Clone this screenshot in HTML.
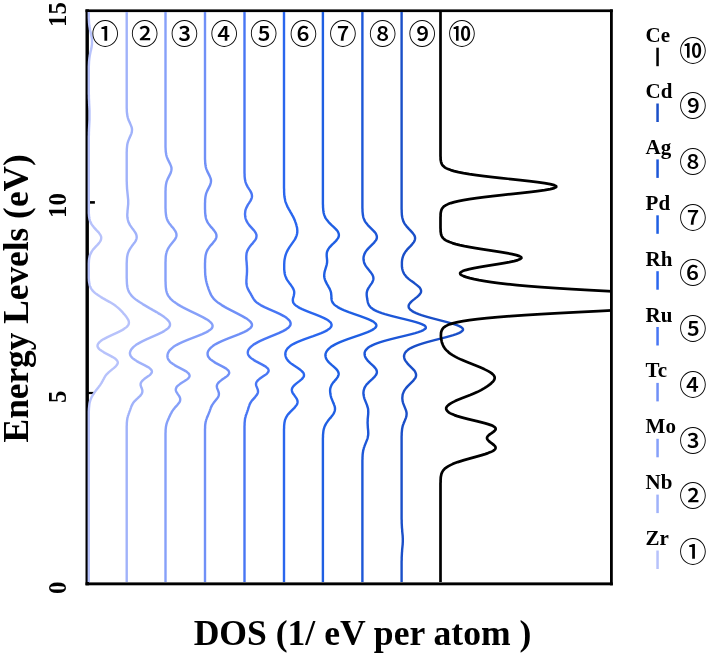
<!DOCTYPE html>
<html lang="en"><head><meta charset="utf-8"><title>DOS</title>
<style>
html,body{margin:0;padding:0;background:#fff;}
body{width:708px;height:656px;overflow:hidden;}
svg{display:block;}
.t{font-family:"Liberation Serif","Noto Serif CJK SC",serif;font-weight:bold;fill:#000;}
.c{font-family:"Liberation Sans","Noto Sans CJK JP",sans-serif;font-weight:500;fill:#000;}
</style></head><body>
<svg width="708" height="656" viewBox="0 0 708 656">
<rect width="708" height="656" fill="#fff"/>
<defs><clipPath id="cp"><rect x="85.0" y="12.1" width="526.4" height="570.3"/></clipPath></defs>
<g fill="#000">
<rect x="85.5" y="9.4" width="527.3" height="2.7"/>
<rect x="85.5" y="582.4" width="527.3" height="2.9"/>
<rect x="85.5" y="9.4" width="3.4" height="575.9"/>
<rect x="610.0" y="9.4" width="2.8" height="575.9"/>
<rect x="88" y="201.1" width="6.9" height="2.6"/>
<rect x="88" y="391.9" width="6.6" height="2.2"/>
</g>
<g clip-path="url(#cp)" fill="none" stroke-width="2.4" stroke-linejoin="round">
<path stroke="#b7c2fb" d="M88.8,12.1 L88.8,13.1 L88.8,14.1 L88.8,15.1 L88.8,16.1 L88.8,17.1 L88.8,18.1 L88.9,19.1 L88.9,20.1 L89.0,21.1 L89.0,22.1 L89.1,23.1 L89.2,24.1 L89.3,25.1 L89.4,26.1 L89.6,27.1 L89.8,28.1 L89.9,29.1 L90.1,30.1 L90.3,31.1 L90.6,32.1 L90.8,33.1 L91.0,34.1 L91.2,35.1 L91.4,36.1 L91.6,37.1 L91.8,38.1 L91.9,39.1 L92.0,40.1 L92.0,41.1 L92.0,42.1 L92.0,43.1 L92.0,44.1 L91.9,45.1 L91.7,46.1 L91.6,47.1 L91.4,48.1 L91.2,49.1 L91.0,50.1 L90.7,51.1 L90.5,52.1 L90.3,53.1 L90.1,54.1 L89.9,55.1 L89.7,56.1 L89.6,57.1 L89.4,58.1 L89.3,59.1 L89.2,60.1 L89.1,61.1 L89.0,62.1 L89.0,63.1 L88.9,64.1 L88.9,65.1 L88.8,66.1 L88.8,67.1 L88.8,68.1 L88.8,69.1 L88.8,70.1 L88.8,71.1 L88.8,72.1 L88.8,73.1 L88.8,74.1 L88.8,75.1 L88.8,76.1 L88.8,77.1 L88.8,78.1 L88.8,79.1 L88.8,80.1 L88.8,81.1 L88.8,82.1 L88.8,83.1 L88.8,84.1 L88.8,85.1 L88.8,86.1 L88.8,87.1 L88.8,88.1 L88.8,89.1 L88.8,90.1 L88.8,91.1 L88.8,92.1 L88.8,93.1 L88.8,94.1 L88.9,95.1 L88.9,96.1 L88.9,97.1 L88.9,98.1 L89.0,99.1 L89.0,100.1 L89.1,101.1 L89.1,102.1 L89.1,103.1 L89.2,104.1 L89.2,105.1 L89.3,106.1 L89.3,107.1 L89.4,108.1 L89.4,109.1 L89.5,110.1 L89.5,111.1 L89.5,112.1 L89.5,113.1 L89.5,114.1 L89.5,115.1 L89.5,116.1 L89.5,117.1 L89.5,118.1 L89.5,119.1 L89.5,120.1 L89.4,121.1 L89.4,122.1 L89.3,123.1 L89.3,124.1 L89.2,125.1 L89.2,126.1 L89.1,127.1 L89.1,128.1 L89.0,129.1 L89.0,130.1 L89.0,131.1 L88.9,132.1 L88.9,133.1 L88.9,134.1 L88.9,135.1 L88.8,136.1 L88.8,137.1 L88.8,138.1 L88.8,139.1 L88.8,140.1 L88.8,141.1 L88.8,142.1 L88.8,143.1 L88.8,144.1 L88.8,145.1 L88.8,146.1 L88.8,147.1 L88.8,148.1 L88.8,149.1 L88.8,150.1 L88.8,151.1 L88.8,152.1 L88.8,153.1 L88.8,154.1 L88.8,155.1 L88.8,156.1 L88.8,157.1 L88.8,158.1 L88.8,159.1 L88.8,160.1 L88.8,161.1 L88.8,162.1 L88.8,163.1 L88.8,164.1 L88.8,165.1 L88.8,166.1 L88.8,167.1 L88.8,168.1 L88.8,169.1 L88.8,170.1 L88.8,171.1 L88.8,172.1 L88.8,173.1 L88.8,174.1 L88.8,175.1 L88.8,176.1 L88.8,177.1 L88.8,178.1 L88.8,179.1 L88.8,180.1 L88.8,181.1 L88.8,182.1 L88.8,183.1 L88.8,184.1 L88.8,185.1 L88.8,186.1 L88.8,187.1 L88.8,188.1 L88.8,189.1 L88.8,190.1 L88.8,191.1 L88.8,192.1 L88.8,193.1 L88.8,194.1 L88.8,195.1 L88.8,196.1 L88.8,197.1 L88.8,198.1 L88.8,199.1 L88.8,200.1 L88.8,201.1 L88.8,202.1 L88.8,203.1 L88.8,204.1 L88.8,205.1 L88.8,206.1 L88.8,207.1 L88.8,208.1 L88.8,209.1 L88.8,210.1 L88.8,211.1 L88.8,212.1 L88.8,213.1 L88.9,214.1 L89.0,215.1 L89.0,216.1 L89.2,217.1 L89.3,218.1 L89.5,219.1 L89.8,220.1 L90.1,221.1 L90.5,222.1 L91.0,223.1 L91.5,224.1 L92.2,225.1 L92.9,226.1 L93.7,227.1 L94.6,228.1 L95.5,229.1 L96.4,230.1 L97.4,231.1 L98.3,232.1 L99.1,233.1 L99.8,234.1 L100.5,235.1 L100.9,236.1 L101.2,237.1 L101.2,238.1 L101.1,239.1 L100.8,240.1 L100.3,241.1 L99.7,242.1 L99.0,243.1 L98.1,244.1 L97.2,245.1 L96.2,246.1 L95.3,247.1 L94.4,248.1 L93.5,249.1 L92.7,250.1 L92.0,251.1 L91.4,252.1 L90.9,253.1 L90.4,254.1 L90.0,255.1 L89.7,256.1 L89.5,257.1 L89.3,258.1 L89.1,259.1 L89.0,260.1 L88.9,261.1 L88.9,262.1 L88.8,263.1 L88.8,264.1 L88.8,265.1 L88.8,266.1 L88.8,267.1 L88.8,268.1 L88.8,269.1 L88.8,270.1 L88.8,271.1 L88.8,272.1 L88.8,273.1 L88.8,274.1 L88.8,275.1 L88.8,276.1 L88.8,277.1 L88.8,278.1 L88.9,279.1 L88.9,280.1 L89.0,281.1 L89.1,282.1 L89.3,283.1 L89.5,284.1 L89.7,285.1 L90.0,286.1 L90.4,287.1 L90.9,288.1 L91.5,289.1 L92.2,290.1 L93.1,291.1 L94.1,292.1 L95.2,293.1 L96.5,294.1 L97.9,295.1 L99.4,296.1 L101.0,297.1 L102.7,298.1 L104.5,299.1 L106.2,300.1 L108.0,301.1 L109.8,302.1 L111.4,303.1 L113.0,304.1 L114.5,305.1 L115.9,306.1 L117.2,307.1 L118.4,308.1 L119.5,309.1 L120.5,310.1 L121.5,311.1 L122.4,312.1 L123.2,313.1 L124.1,314.1 L124.9,315.1 L125.7,316.1 L126.5,317.1 L127.2,318.1 L127.8,319.1 L128.4,320.1 L128.7,321.1 L128.9,322.1 L128.9,323.1 L128.7,324.1 L128.2,325.1 L127.5,326.1 L126.5,327.1 L125.2,328.1 L123.8,329.1 L122.1,330.1 L120.2,331.1 L118.2,332.1 L116.1,333.1 L113.9,334.1 L111.7,335.1 L109.6,336.1 L107.5,337.1 L105.6,338.1 L103.7,339.1 L102.1,340.1 L100.7,341.1 L99.5,342.1 L98.6,343.1 L97.9,344.1 L97.6,345.1 L97.5,346.1 L97.8,347.1 L98.4,348.1 L99.3,349.1 L100.4,350.1 L101.9,351.1 L103.5,352.1 L105.3,353.1 L107.2,354.1 L109.1,355.1 L111.0,356.1 L112.7,357.1 L114.3,358.1 L115.7,359.1 L116.7,360.1 L117.4,361.1 L117.8,362.1 L117.8,363.1 L117.4,364.1 L116.8,365.1 L116.0,366.1 L114.9,367.1 L113.8,368.1 L112.5,369.1 L111.3,370.1 L110.1,371.1 L108.9,372.1 L107.9,373.1 L106.9,374.1 L106.1,375.1 L105.3,376.1 L104.7,377.1 L104.1,378.1 L103.6,379.1 L103.0,380.1 L102.5,381.1 L101.9,382.1 L101.4,383.1 L100.7,384.1 L100.1,385.1 L99.4,386.1 L98.6,387.1 L97.9,388.1 L97.1,389.1 L96.3,390.1 L95.5,391.1 L94.8,392.1 L94.1,393.1 L93.4,394.1 L92.8,395.1 L92.2,396.1 L91.6,397.1 L91.2,398.1 L90.8,399.1 L90.4,400.1 L90.1,401.1 L89.8,402.1 L89.6,403.1 L89.4,404.1 L89.3,405.1 L89.2,406.1 L89.1,407.1 L89.0,408.1 L88.9,409.1 L88.9,410.1 L88.8,411.1 L88.8,412.1 L88.8,413.1 L88.8,414.1 L88.8,415.1 L88.8,416.1 L88.8,417.1 L88.8,418.1 L88.8,419.1 L88.8,420.1 L88.8,421.1 L88.8,422.1 L88.8,423.1 L88.8,424.1 L88.8,425.1 L88.8,426.1 L88.8,427.1 L88.8,428.1 L88.8,429.1 L88.8,430.1 L88.8,431.1 L88.8,432.1 L88.8,433.1 L88.8,434.1 L88.8,435.1 L88.8,436.1 L88.8,437.1 L88.8,438.1 L88.8,439.1 L88.8,440.1 L88.8,441.1 L88.8,442.1 L88.8,443.1 L88.8,444.1 L88.8,445.1 L88.8,446.1 L88.8,447.1 L88.8,448.1 L88.8,449.1 L88.8,450.1 L88.8,451.1 L88.8,452.1 L88.8,453.1 L88.8,454.1 L88.8,455.1 L88.8,456.1 L88.8,457.1 L88.8,458.1 L88.8,459.1 L88.8,460.1 L88.8,461.1 L88.8,462.1 L88.8,463.1 L88.8,464.1 L88.8,465.1 L88.8,466.1 L88.8,467.1 L88.8,468.1 L88.8,469.1 L88.8,470.1 L88.8,471.1 L88.8,472.1 L88.8,473.1 L88.8,474.1 L88.8,475.1 L88.8,476.1 L88.8,477.1 L88.8,478.1 L88.8,479.1 L88.8,480.1 L88.8,481.1 L88.8,482.1 L88.8,483.1 L88.8,484.1 L88.8,485.1 L88.8,486.1 L88.8,487.1 L88.8,488.1 L88.8,489.1 L88.8,490.1 L88.8,491.1 L88.8,492.1 L88.8,493.1 L88.8,494.1 L88.8,495.1 L88.8,496.1 L88.8,497.1 L88.8,498.1 L88.8,499.1 L88.8,500.1 L88.8,501.1 L88.8,502.1 L88.8,503.1 L88.8,504.1 L88.8,505.1 L88.8,506.1 L88.8,507.1 L88.8,508.1 L88.8,509.1 L88.8,510.1 L88.8,511.1 L88.8,512.1 L88.8,513.1 L88.8,514.1 L88.8,515.1 L88.8,516.1 L88.8,517.1 L88.8,518.1 L88.8,519.1 L88.8,520.1 L88.8,521.1 L88.8,522.1 L88.8,523.1 L88.8,524.1 L88.8,525.1 L88.8,526.1 L88.8,527.1 L88.8,528.1 L88.8,529.1 L88.8,530.1 L88.8,531.1 L88.8,532.1 L88.8,533.1 L88.8,534.1 L88.8,535.1 L88.8,536.1 L88.8,537.1 L88.8,538.1 L88.8,539.1 L88.8,540.1 L88.8,541.1 L88.8,542.1 L88.8,543.1 L88.8,544.1 L88.8,545.1 L88.8,546.1 L88.8,547.1 L88.8,548.1 L88.8,549.1 L88.8,550.1 L88.8,551.1 L88.8,552.1 L88.8,553.1 L88.8,554.1 L88.8,555.1 L88.8,556.1 L88.8,557.1 L88.8,558.1 L88.8,559.1 L88.8,560.1 L88.8,561.1 L88.8,562.1 L88.8,563.1 L88.8,564.1 L88.8,565.1 L88.8,566.1 L88.8,567.1 L88.8,568.1 L88.8,569.1 L88.8,570.1 L88.8,571.1 L88.8,572.1 L88.8,573.1 L88.8,574.1 L88.8,575.1 L88.8,576.1 L88.8,577.1 L88.8,578.1 L88.8,579.1 L88.8,580.1 L88.8,581.1 L88.8,582.1"/>
<path stroke="#a0b2fa" d="M126.7,12.1 L126.7,13.1 L126.7,14.1 L126.7,15.1 L126.7,16.1 L126.7,17.1 L126.7,18.1 L126.7,19.1 L126.7,20.1 L126.7,21.1 L126.7,22.1 L126.7,23.1 L126.7,24.1 L126.7,25.1 L126.7,26.1 L126.7,27.1 L126.7,28.1 L126.7,29.1 L126.7,30.1 L126.7,31.1 L126.7,32.1 L126.7,33.1 L126.7,34.1 L126.7,35.1 L126.7,36.1 L126.7,37.1 L126.7,38.1 L126.7,39.1 L126.7,40.1 L126.7,41.1 L126.7,42.1 L126.7,43.1 L126.7,44.1 L126.7,45.1 L126.7,46.1 L126.7,47.1 L126.7,48.1 L126.7,49.1 L126.7,50.1 L126.7,51.1 L126.7,52.1 L126.7,53.1 L126.7,54.1 L126.7,55.1 L126.7,56.1 L126.7,57.1 L126.7,58.1 L126.7,59.1 L126.7,60.1 L126.7,61.1 L126.7,62.1 L126.7,63.1 L126.7,64.1 L126.7,65.1 L126.7,66.1 L126.7,67.1 L126.7,68.1 L126.7,69.1 L126.7,70.1 L126.7,71.1 L126.7,72.1 L126.7,73.1 L126.7,74.1 L126.7,75.1 L126.7,76.1 L126.7,77.1 L126.7,78.1 L126.7,79.1 L126.7,80.1 L126.7,81.1 L126.7,82.1 L126.7,83.1 L126.7,84.1 L126.7,85.1 L126.7,86.1 L126.7,87.1 L126.7,88.1 L126.7,89.1 L126.7,90.1 L126.7,91.1 L126.7,92.1 L126.7,93.1 L126.7,94.1 L126.7,95.1 L126.7,96.1 L126.7,97.1 L126.7,98.1 L126.7,99.1 L126.7,100.1 L126.7,101.1 L126.7,102.1 L126.7,103.1 L126.7,104.1 L126.7,105.1 L126.7,106.1 L126.7,107.1 L126.7,108.1 L126.8,109.1 L126.8,110.1 L126.8,111.1 L126.9,112.1 L127.0,113.1 L127.1,114.1 L127.3,115.1 L127.4,116.1 L127.7,117.1 L127.9,118.1 L128.3,119.1 L128.6,120.1 L129.1,121.1 L129.5,122.1 L130.0,123.1 L130.4,124.1 L130.8,125.1 L131.2,126.1 L131.6,127.1 L131.8,128.1 L132.0,129.1 L132.0,130.1 L131.9,131.1 L131.8,132.1 L131.5,133.1 L131.2,134.1 L130.8,135.1 L130.3,136.1 L129.9,137.1 L129.4,138.1 L129.0,139.1 L128.6,140.1 L128.2,141.1 L127.9,142.1 L127.6,143.1 L127.4,144.1 L127.2,145.1 L127.1,146.1 L127.0,147.1 L126.9,148.1 L126.8,149.1 L126.8,150.1 L126.8,151.1 L126.7,152.1 L126.7,153.1 L126.7,154.1 L126.7,155.1 L126.7,156.1 L126.7,157.1 L126.7,158.1 L126.7,159.1 L126.7,160.1 L126.7,161.1 L126.7,162.1 L126.7,163.1 L126.7,164.1 L126.7,165.1 L126.7,166.1 L126.7,167.1 L126.7,168.1 L126.7,169.1 L126.7,170.1 L126.7,171.1 L126.7,172.1 L126.7,173.1 L126.7,174.1 L126.7,175.1 L126.7,176.1 L126.7,177.1 L126.7,178.1 L126.7,179.1 L126.7,180.1 L126.7,181.1 L126.8,182.1 L126.8,183.1 L126.8,184.1 L126.9,185.1 L126.9,186.1 L127.0,187.1 L127.0,188.1 L127.1,189.1 L127.2,190.1 L127.3,191.1 L127.4,192.1 L127.5,193.1 L127.6,194.1 L127.7,195.1 L127.8,196.1 L127.9,197.1 L128.0,198.1 L128.1,199.1 L128.2,200.1 L128.2,201.1 L128.2,202.1 L128.2,203.1 L128.2,204.1 L128.1,205.1 L128.0,206.1 L127.9,207.1 L127.8,208.1 L127.7,209.1 L127.6,210.1 L127.5,211.1 L127.5,212.1 L127.4,213.1 L127.3,214.1 L127.3,215.1 L127.3,216.1 L127.4,217.1 L127.5,218.1 L127.7,219.1 L127.9,220.1 L128.2,221.1 L128.5,222.1 L129.0,223.1 L129.5,224.1 L130.0,225.1 L130.7,226.1 L131.4,227.1 L132.1,228.1 L132.8,229.1 L133.6,230.1 L134.3,231.1 L135.0,232.1 L135.6,233.1 L136.1,234.1 L136.4,235.1 L136.6,236.1 L136.7,237.1 L136.6,238.1 L136.4,239.1 L136.0,240.1 L135.5,241.1 L134.9,242.1 L134.2,243.1 L133.4,244.1 L132.7,245.1 L131.9,246.1 L131.2,247.1 L130.5,248.1 L129.9,249.1 L129.3,250.1 L128.8,251.1 L128.4,252.1 L128.0,253.1 L127.7,254.1 L127.5,255.1 L127.3,256.1 L127.1,257.1 L127.0,258.1 L126.9,259.1 L126.9,260.1 L126.8,261.1 L126.8,262.1 L126.7,263.1 L126.7,264.1 L126.7,265.1 L126.7,266.1 L126.7,267.1 L126.7,268.1 L126.7,269.1 L126.7,270.1 L126.7,271.1 L126.7,272.1 L126.7,273.1 L126.7,274.1 L126.7,275.1 L126.7,276.1 L126.7,277.1 L126.7,278.1 L126.8,279.1 L126.8,280.1 L126.8,281.1 L126.9,282.1 L126.9,283.1 L127.0,284.1 L127.1,285.1 L127.2,286.1 L127.4,287.1 L127.6,288.1 L127.9,289.1 L128.2,290.1 L128.6,291.1 L129.1,292.1 L129.7,293.1 L130.4,294.1 L131.1,295.1 L132.0,296.1 L133.0,297.1 L134.1,298.1 L135.3,299.1 L136.6,300.1 L138.0,301.1 L139.5,302.1 L141.1,303.1 L142.7,304.1 L144.4,305.1 L146.1,306.1 L147.8,307.1 L149.5,308.1 L151.3,309.1 L153.0,310.1 L154.8,311.1 L156.5,312.1 L158.1,313.1 L159.8,314.1 L161.3,315.1 L162.8,316.1 L164.3,317.1 L165.6,318.1 L166.8,319.1 L167.8,320.1 L168.7,321.1 L169.4,322.1 L169.8,323.1 L170.0,324.1 L170.0,325.1 L169.7,326.1 L169.1,327.1 L168.2,328.1 L167.1,329.1 L165.7,330.1 L164.1,331.1 L162.3,332.1 L160.3,333.1 L158.2,334.1 L156.0,335.1 L153.7,336.1 L151.4,337.1 L149.2,338.1 L146.9,339.1 L144.8,340.1 L142.7,341.1 L140.8,342.1 L139.0,343.1 L137.3,344.1 L135.8,345.1 L134.5,346.1 L133.3,347.1 L132.4,348.1 L131.5,349.1 L130.9,350.1 L130.4,351.1 L130.1,352.1 L129.9,353.1 L130.0,354.1 L130.3,355.1 L130.8,356.1 L131.5,357.1 L132.5,358.1 L133.7,359.1 L135.1,360.1 L136.7,361.1 L138.5,362.1 L140.4,363.1 L142.4,364.1 L144.4,365.1 L146.2,366.1 L148.0,367.1 L149.5,368.1 L150.6,369.1 L151.5,370.1 L151.9,371.1 L151.9,372.1 L151.5,373.1 L150.7,374.1 L149.7,375.1 L148.4,376.1 L147.0,377.1 L145.6,378.1 L144.2,379.1 L143.0,380.1 L142.0,381.1 L141.3,382.1 L140.8,383.1 L140.6,384.1 L140.6,385.1 L140.9,386.1 L141.2,387.1 L141.7,388.1 L142.0,389.1 L142.3,390.1 L142.4,391.1 L142.3,392.1 L142.0,393.1 L141.5,394.1 L140.8,395.1 L139.9,396.1 L138.8,397.1 L137.8,398.1 L136.7,399.1 L135.7,400.1 L134.7,401.1 L133.9,402.1 L133.1,403.1 L132.5,404.1 L132.0,405.1 L131.5,406.1 L131.1,407.1 L130.8,408.1 L130.4,409.1 L130.1,410.1 L129.7,411.1 L129.3,412.1 L129.0,413.1 L128.6,414.1 L128.3,415.1 L127.9,416.1 L127.7,417.1 L127.4,418.1 L127.3,419.1 L127.1,420.1 L127.0,421.1 L126.9,422.1 L126.8,423.1 L126.8,424.1 L126.8,425.1 L126.7,426.1 L126.7,427.1 L126.7,428.1 L126.7,429.1 L126.7,430.1 L126.7,431.1 L126.7,432.1 L126.7,433.1 L126.7,434.1 L126.7,435.1 L126.7,436.1 L126.7,437.1 L126.7,438.1 L126.7,439.1 L126.7,440.1 L126.7,441.1 L126.7,442.1 L126.7,443.1 L126.7,444.1 L126.7,445.1 L126.7,446.1 L126.7,447.1 L126.7,448.1 L126.7,449.1 L126.7,450.1 L126.7,451.1 L126.7,452.1 L126.7,453.1 L126.7,454.1 L126.7,455.1 L126.7,456.1 L126.7,457.1 L126.7,458.1 L126.7,459.1 L126.7,460.1 L126.7,461.1 L126.7,462.1 L126.7,463.1 L126.7,464.1 L126.7,465.1 L126.7,466.1 L126.7,467.1 L126.7,468.1 L126.7,469.1 L126.7,470.1 L126.7,471.1 L126.7,472.1 L126.7,473.1 L126.7,474.1 L126.7,475.1 L126.7,476.1 L126.7,477.1 L126.7,478.1 L126.7,479.1 L126.7,480.1 L126.7,481.1 L126.7,482.1 L126.7,483.1 L126.7,484.1 L126.7,485.1 L126.7,486.1 L126.7,487.1 L126.7,488.1 L126.7,489.1 L126.7,490.1 L126.7,491.1 L126.7,492.1 L126.7,493.1 L126.7,494.1 L126.7,495.1 L126.7,496.1 L126.7,497.1 L126.7,498.1 L126.7,499.1 L126.7,500.1 L126.7,501.1 L126.7,502.1 L126.7,503.1 L126.7,504.1 L126.7,505.1 L126.7,506.1 L126.7,507.1 L126.7,508.1 L126.7,509.1 L126.7,510.1 L126.7,511.1 L126.7,512.1 L126.7,513.1 L126.7,514.1 L126.7,515.1 L126.7,516.1 L126.7,517.1 L126.7,518.1 L126.7,519.1 L126.7,520.1 L126.7,521.1 L126.7,522.1 L126.7,523.1 L126.7,524.1 L126.7,525.1 L126.7,526.1 L126.7,527.1 L126.7,528.1 L126.7,529.1 L126.7,530.1 L126.7,531.1 L126.7,532.1 L126.7,533.1 L126.7,534.1 L126.7,535.1 L126.7,536.1 L126.7,537.1 L126.7,538.1 L126.7,539.1 L126.7,540.1 L126.7,541.1 L126.7,542.1 L126.7,543.1 L126.7,544.1 L126.7,545.1 L126.7,546.1 L126.7,547.1 L126.7,548.1 L126.7,549.1 L126.7,550.1 L126.7,551.1 L126.7,552.1 L126.7,553.1 L126.7,554.1 L126.7,555.1 L126.7,556.1 L126.7,557.1 L126.7,558.1 L126.7,559.1 L126.7,560.1 L126.7,561.1 L126.7,562.1 L126.7,563.1 L126.7,564.1 L126.7,565.1 L126.7,566.1 L126.7,567.1 L126.7,568.1 L126.7,569.1 L126.7,570.1 L126.7,571.1 L126.7,572.1 L126.7,573.1 L126.7,574.1 L126.7,575.1 L126.7,576.1 L126.7,577.1 L126.7,578.1 L126.7,579.1 L126.7,580.1 L126.7,581.1 L126.7,582.1"/>
<path stroke="#86a0f9" d="M165.5,12.1 L165.5,13.1 L165.5,14.1 L165.5,15.1 L165.5,16.1 L165.5,17.1 L165.5,18.1 L165.5,19.1 L165.5,20.1 L165.5,21.1 L165.5,22.1 L165.5,23.1 L165.5,24.1 L165.5,25.1 L165.5,26.1 L165.5,27.1 L165.5,28.1 L165.5,29.1 L165.5,30.1 L165.5,31.1 L165.5,32.1 L165.5,33.1 L165.5,34.1 L165.5,35.1 L165.5,36.1 L165.5,37.1 L165.5,38.1 L165.5,39.1 L165.5,40.1 L165.5,41.1 L165.5,42.1 L165.5,43.1 L165.5,44.1 L165.5,45.1 L165.5,46.1 L165.5,47.1 L165.5,48.1 L165.5,49.1 L165.5,50.1 L165.5,51.1 L165.5,52.1 L165.5,53.1 L165.5,54.1 L165.5,55.1 L165.5,56.1 L165.5,57.1 L165.5,58.1 L165.5,59.1 L165.5,60.1 L165.5,61.1 L165.5,62.1 L165.5,63.1 L165.5,64.1 L165.5,65.1 L165.5,66.1 L165.5,67.1 L165.5,68.1 L165.5,69.1 L165.5,70.1 L165.5,71.1 L165.5,72.1 L165.5,73.1 L165.5,74.1 L165.5,75.1 L165.5,76.1 L165.5,77.1 L165.5,78.1 L165.5,79.1 L165.5,80.1 L165.5,81.1 L165.5,82.1 L165.5,83.1 L165.5,84.1 L165.5,85.1 L165.5,86.1 L165.5,87.1 L165.5,88.1 L165.5,89.1 L165.5,90.1 L165.5,91.1 L165.5,92.1 L165.5,93.1 L165.5,94.1 L165.5,95.1 L165.5,96.1 L165.5,97.1 L165.5,98.1 L165.5,99.1 L165.5,100.1 L165.5,101.1 L165.5,102.1 L165.5,103.1 L165.5,104.1 L165.5,105.1 L165.5,106.1 L165.5,107.1 L165.5,108.1 L165.5,109.1 L165.5,110.1 L165.5,111.1 L165.5,112.1 L165.5,113.1 L165.5,114.1 L165.5,115.1 L165.5,116.1 L165.5,117.1 L165.5,118.1 L165.5,119.1 L165.5,120.1 L165.5,121.1 L165.5,122.1 L165.5,123.1 L165.5,124.1 L165.5,125.1 L165.5,126.1 L165.5,127.1 L165.5,128.1 L165.5,129.1 L165.5,130.1 L165.5,131.1 L165.5,132.1 L165.5,133.1 L165.5,134.1 L165.5,135.1 L165.5,136.1 L165.5,137.1 L165.5,138.1 L165.5,139.1 L165.5,140.1 L165.5,141.1 L165.5,142.1 L165.5,143.1 L165.5,144.1 L165.5,145.1 L165.5,146.1 L165.5,147.1 L165.6,148.1 L165.6,149.1 L165.7,150.1 L165.7,151.1 L165.8,152.1 L166.0,153.1 L166.1,154.1 L166.3,155.1 L166.6,156.1 L166.9,157.1 L167.3,158.1 L167.7,159.1 L168.2,160.1 L168.7,161.1 L169.2,162.1 L169.7,163.1 L170.2,164.1 L170.6,165.1 L171.0,166.1 L171.3,167.1 L171.5,168.1 L171.5,169.1 L171.4,170.1 L171.2,171.1 L170.9,172.1 L170.6,173.1 L170.1,174.1 L169.6,175.1 L169.1,176.1 L168.6,177.1 L168.1,178.1 L167.6,179.1 L167.2,180.1 L166.8,181.1 L166.5,182.1 L166.3,183.1 L166.1,184.1 L165.9,185.1 L165.8,186.1 L165.7,187.1 L165.6,188.1 L165.6,189.1 L165.6,190.1 L165.5,191.1 L165.5,192.1 L165.5,193.1 L165.5,194.1 L165.5,195.1 L165.5,196.1 L165.5,197.1 L165.5,198.1 L165.5,199.1 L165.5,200.1 L165.5,201.1 L165.5,202.1 L165.5,203.1 L165.5,204.1 L165.5,205.1 L165.5,206.1 L165.5,207.1 L165.5,208.1 L165.6,209.1 L165.6,210.1 L165.6,211.1 L165.7,212.1 L165.8,213.1 L165.9,214.1 L166.0,215.1 L166.2,216.1 L166.4,217.1 L166.7,218.1 L167.0,219.1 L167.4,220.1 L167.9,221.1 L168.5,222.1 L169.1,223.1 L169.8,224.1 L170.6,225.1 L171.4,226.1 L172.3,227.1 L173.1,228.1 L173.9,229.1 L174.6,230.1 L175.3,231.1 L175.8,232.1 L176.2,233.1 L176.4,234.1 L176.5,235.1 L176.4,236.1 L176.1,237.1 L175.7,238.1 L175.1,239.1 L174.5,240.1 L173.7,241.1 L172.9,242.1 L172.1,243.1 L171.3,244.1 L170.5,245.1 L169.7,246.1 L169.0,247.1 L168.4,248.1 L167.8,249.1 L167.4,250.1 L167.0,251.1 L166.6,252.1 L166.4,253.1 L166.1,254.1 L166.0,255.1 L165.8,256.1 L165.7,257.1 L165.7,258.1 L165.6,259.1 L165.6,260.1 L165.6,261.1 L165.5,262.1 L165.5,263.1 L165.5,264.1 L165.5,265.1 L165.5,266.1 L165.5,267.1 L165.5,268.1 L165.5,269.1 L165.5,270.1 L165.5,271.1 L165.5,272.1 L165.5,273.1 L165.5,274.1 L165.5,275.1 L165.5,276.1 L165.5,277.1 L165.5,278.1 L165.5,279.1 L165.5,280.1 L165.5,281.1 L165.6,282.1 L165.6,283.1 L165.6,284.1 L165.7,285.1 L165.7,286.1 L165.8,287.1 L165.9,288.1 L166.0,289.1 L166.2,290.1 L166.4,291.1 L166.7,292.1 L167.0,293.1 L167.4,294.1 L167.9,295.1 L168.5,296.1 L169.2,297.1 L170.0,298.1 L170.9,299.1 L172.0,300.1 L173.1,301.1 L174.4,302.1 L175.8,303.1 L177.3,304.1 L179.0,305.1 L180.7,306.1 L182.5,307.1 L184.4,308.1 L186.4,309.1 L188.4,310.1 L190.4,311.1 L192.5,312.1 L194.6,313.1 L196.7,314.1 L198.7,315.1 L200.7,316.1 L202.7,317.1 L204.5,318.1 L206.2,319.1 L207.8,320.1 L209.2,321.1 L210.4,322.1 L211.4,323.1 L212.1,324.1 L212.5,325.1 L212.6,326.1 L212.4,327.1 L211.9,328.1 L211.0,329.1 L209.8,330.1 L208.3,331.1 L206.5,332.1 L204.4,333.1 L202.2,334.1 L199.8,335.1 L197.3,336.1 L194.7,337.1 L192.1,338.1 L189.5,339.1 L187.0,340.1 L184.6,341.1 L182.3,342.1 L180.1,343.1 L178.1,344.1 L176.3,345.1 L174.7,346.1 L173.2,347.1 L172.0,348.1 L170.9,349.1 L169.9,350.1 L169.1,351.1 L168.5,352.1 L168.0,353.1 L167.7,354.1 L167.5,355.1 L167.4,356.1 L167.5,357.1 L167.7,358.1 L168.1,359.1 L168.7,360.1 L169.5,361.1 L170.4,362.1 L171.6,363.1 L173.0,364.1 L174.6,365.1 L176.3,366.1 L178.2,367.1 L180.1,368.1 L182.0,369.1 L183.9,370.1 L185.6,371.1 L187.0,372.1 L188.2,373.1 L189.1,374.1 L189.5,375.1 L189.6,376.1 L189.2,377.1 L188.5,378.1 L187.4,379.1 L186.1,380.1 L184.6,381.1 L183.0,382.1 L181.4,383.1 L179.9,384.1 L178.6,385.1 L177.4,386.1 L176.6,387.1 L176.1,388.1 L175.8,389.1 L175.8,390.1 L176.1,391.1 L176.5,392.1 L177.2,393.1 L177.8,394.1 L178.5,395.1 L179.2,396.1 L179.7,397.1 L180.1,398.1 L180.2,399.1 L180.2,400.1 L180.0,401.1 L179.5,402.1 L178.9,403.1 L178.1,404.1 L177.3,405.1 L176.3,406.1 L175.4,407.1 L174.6,408.1 L173.7,409.1 L173.0,410.1 L172.3,411.1 L171.7,412.1 L171.2,413.1 L170.6,414.1 L170.2,415.1 L169.7,416.1 L169.2,417.1 L168.8,418.1 L168.4,419.1 L167.9,420.1 L167.5,421.1 L167.1,422.1 L166.8,423.1 L166.5,424.1 L166.3,425.1 L166.1,426.1 L165.9,427.1 L165.8,428.1 L165.7,429.1 L165.6,430.1 L165.6,431.1 L165.6,432.1 L165.5,433.1 L165.5,434.1 L165.5,435.1 L165.5,436.1 L165.5,437.1 L165.5,438.1 L165.5,439.1 L165.5,440.1 L165.5,441.1 L165.5,442.1 L165.5,443.1 L165.5,444.1 L165.5,445.1 L165.5,446.1 L165.5,447.1 L165.5,448.1 L165.5,449.1 L165.5,450.1 L165.5,451.1 L165.5,452.1 L165.5,453.1 L165.5,454.1 L165.5,455.1 L165.5,456.1 L165.5,457.1 L165.5,458.1 L165.5,459.1 L165.5,460.1 L165.5,461.1 L165.5,462.1 L165.5,463.1 L165.5,464.1 L165.5,465.1 L165.5,466.1 L165.5,467.1 L165.5,468.1 L165.5,469.1 L165.5,470.1 L165.5,471.1 L165.5,472.1 L165.5,473.1 L165.5,474.1 L165.5,475.1 L165.5,476.1 L165.5,477.1 L165.5,478.1 L165.5,479.1 L165.5,480.1 L165.5,481.1 L165.5,482.1 L165.5,483.1 L165.5,484.1 L165.5,485.1 L165.5,486.1 L165.5,487.1 L165.5,488.1 L165.5,489.1 L165.5,490.1 L165.5,491.1 L165.5,492.1 L165.5,493.1 L165.5,494.1 L165.5,495.1 L165.5,496.1 L165.5,497.1 L165.5,498.1 L165.5,499.1 L165.5,500.1 L165.5,501.1 L165.5,502.1 L165.5,503.1 L165.5,504.1 L165.5,505.1 L165.5,506.1 L165.5,507.1 L165.5,508.1 L165.5,509.1 L165.5,510.1 L165.5,511.1 L165.5,512.1 L165.5,513.1 L165.5,514.1 L165.5,515.1 L165.5,516.1 L165.5,517.1 L165.5,518.1 L165.5,519.1 L165.5,520.1 L165.5,521.1 L165.5,522.1 L165.5,523.1 L165.5,524.1 L165.5,525.1 L165.5,526.1 L165.5,527.1 L165.5,528.1 L165.5,529.1 L165.5,530.1 L165.5,531.1 L165.5,532.1 L165.5,533.1 L165.5,534.1 L165.5,535.1 L165.5,536.1 L165.5,537.1 L165.5,538.1 L165.5,539.1 L165.5,540.1 L165.5,541.1 L165.5,542.1 L165.5,543.1 L165.5,544.1 L165.5,545.1 L165.5,546.1 L165.5,547.1 L165.5,548.1 L165.5,549.1 L165.5,550.1 L165.5,551.1 L165.5,552.1 L165.5,553.1 L165.5,554.1 L165.5,555.1 L165.5,556.1 L165.5,557.1 L165.5,558.1 L165.5,559.1 L165.5,560.1 L165.5,561.1 L165.5,562.1 L165.5,563.1 L165.5,564.1 L165.5,565.1 L165.5,566.1 L165.5,567.1 L165.5,568.1 L165.5,569.1 L165.5,570.1 L165.5,571.1 L165.5,572.1 L165.5,573.1 L165.5,574.1 L165.5,575.1 L165.5,576.1 L165.5,577.1 L165.5,578.1 L165.5,579.1 L165.5,580.1 L165.5,581.1 L165.5,582.1"/>
<path stroke="#7090f7" d="M205.0,12.1 L205.0,13.1 L205.0,14.1 L205.0,15.1 L205.0,16.1 L205.0,17.1 L205.0,18.1 L205.0,19.1 L205.0,20.1 L205.0,21.1 L205.0,22.1 L205.0,23.1 L205.0,24.1 L205.0,25.1 L205.0,26.1 L205.0,27.1 L205.0,28.1 L205.0,29.1 L205.0,30.1 L205.0,31.1 L205.0,32.1 L205.0,33.1 L205.0,34.1 L205.0,35.1 L205.0,36.1 L205.0,37.1 L205.0,38.1 L205.0,39.1 L205.0,40.1 L205.0,41.1 L205.0,42.1 L205.0,43.1 L205.0,44.1 L205.0,45.1 L205.0,46.1 L205.0,47.1 L205.0,48.1 L205.0,49.1 L205.0,50.1 L205.0,51.1 L205.0,52.1 L205.0,53.1 L205.0,54.1 L205.0,55.1 L205.0,56.1 L205.0,57.1 L205.0,58.1 L205.0,59.1 L205.0,60.1 L205.0,61.1 L205.0,62.1 L205.0,63.1 L205.0,64.1 L205.0,65.1 L205.0,66.1 L205.0,67.1 L205.0,68.1 L205.0,69.1 L205.0,70.1 L205.0,71.1 L205.0,72.1 L205.0,73.1 L205.0,74.1 L205.0,75.1 L205.0,76.1 L205.0,77.1 L205.0,78.1 L205.0,79.1 L205.0,80.1 L205.0,81.1 L205.0,82.1 L205.0,83.1 L205.0,84.1 L205.0,85.1 L205.0,86.1 L205.0,87.1 L205.0,88.1 L205.0,89.1 L205.0,90.1 L205.0,91.1 L205.0,92.1 L205.0,93.1 L205.0,94.1 L205.0,95.1 L205.0,96.1 L205.0,97.1 L205.0,98.1 L205.0,99.1 L205.0,100.1 L205.0,101.1 L205.0,102.1 L205.0,103.1 L205.0,104.1 L205.0,105.1 L205.0,106.1 L205.0,107.1 L205.0,108.1 L205.0,109.1 L205.0,110.1 L205.0,111.1 L205.0,112.1 L205.0,113.1 L205.0,114.1 L205.0,115.1 L205.0,116.1 L205.0,117.1 L205.0,118.1 L205.0,119.1 L205.0,120.1 L205.0,121.1 L205.0,122.1 L205.0,123.1 L205.0,124.1 L205.0,125.1 L205.0,126.1 L205.0,127.1 L205.0,128.1 L205.0,129.1 L205.0,130.1 L205.0,131.1 L205.0,132.1 L205.0,133.1 L205.0,134.1 L205.0,135.1 L205.0,136.1 L205.0,137.1 L205.0,138.1 L205.0,139.1 L205.0,140.1 L205.0,141.1 L205.0,142.1 L205.0,143.1 L205.0,144.1 L205.0,145.1 L205.0,146.1 L205.0,147.1 L205.0,148.1 L205.0,149.1 L205.0,150.1 L205.0,151.1 L205.0,152.1 L205.0,153.1 L205.0,154.1 L205.0,155.1 L205.0,156.1 L205.0,157.1 L205.0,158.1 L205.0,159.1 L205.1,160.1 L205.1,161.1 L205.2,162.1 L205.2,163.1 L205.3,164.1 L205.5,165.1 L205.6,166.1 L205.8,167.1 L206.1,168.1 L206.4,169.1 L206.8,170.1 L207.2,171.1 L207.7,172.1 L208.2,173.1 L208.7,174.1 L209.2,175.1 L209.7,176.1 L210.1,177.1 L210.5,178.1 L210.8,179.1 L211.0,180.1 L211.0,181.1 L210.9,182.1 L210.7,183.1 L210.4,184.1 L210.1,185.1 L209.6,186.1 L209.1,187.1 L208.6,188.1 L208.1,189.1 L207.6,190.1 L207.1,191.1 L206.7,192.1 L206.3,193.1 L206.0,194.1 L205.8,195.1 L205.6,196.1 L205.4,197.1 L205.3,198.1 L205.2,199.1 L205.1,200.1 L205.1,201.1 L205.1,202.1 L205.0,203.1 L205.0,204.1 L205.0,205.1 L205.0,206.1 L205.0,207.1 L205.0,208.1 L205.0,209.1 L205.1,210.1 L205.1,211.1 L205.1,212.1 L205.2,213.1 L205.3,214.1 L205.4,215.1 L205.5,216.1 L205.7,217.1 L205.9,218.1 L206.2,219.1 L206.6,220.1 L207.0,221.1 L207.5,222.1 L208.1,223.1 L208.8,224.1 L209.5,225.1 L210.3,226.1 L211.2,227.1 L212.1,228.1 L212.9,229.1 L213.8,230.1 L214.5,231.1 L215.2,232.1 L215.8,233.1 L216.2,234.1 L216.4,235.1 L216.5,236.1 L216.4,237.1 L216.1,238.1 L215.7,239.1 L215.1,240.1 L214.4,241.1 L213.6,242.1 L212.8,243.1 L211.9,244.1 L211.0,245.1 L210.2,246.1 L209.4,247.1 L208.7,248.1 L208.0,249.1 L207.4,250.1 L206.9,251.1 L206.5,252.1 L206.2,253.1 L205.9,254.1 L205.7,255.1 L205.5,256.1 L205.4,257.1 L205.3,258.1 L205.2,259.1 L205.1,260.1 L205.1,261.1 L205.1,262.1 L205.0,263.1 L205.0,264.1 L205.0,265.1 L205.0,266.1 L205.0,267.1 L205.0,268.1 L205.1,269.1 L205.1,270.1 L205.1,271.1 L205.1,272.1 L205.2,273.1 L205.2,274.1 L205.3,275.1 L205.4,276.1 L205.5,277.1 L205.7,278.1 L205.8,279.1 L206.0,280.1 L206.2,281.1 L206.5,282.1 L206.7,283.1 L207.0,284.1 L207.3,285.1 L207.6,286.1 L208.0,287.1 L208.3,288.1 L208.6,289.1 L209.0,290.1 L209.4,291.1 L209.8,292.1 L210.2,293.1 L210.7,294.1 L211.2,295.1 L211.8,296.1 L212.4,297.1 L213.2,298.1 L214.1,299.1 L215.1,300.1 L216.2,301.1 L217.4,302.1 L218.7,303.1 L220.2,304.1 L221.7,305.1 L223.4,306.1 L225.1,307.1 L226.9,308.1 L228.8,309.1 L230.7,310.1 L232.7,311.1 L234.6,312.1 L236.6,313.1 L238.5,314.1 L240.4,315.1 L242.3,316.1 L244.0,317.1 L245.7,318.1 L247.3,319.1 L248.6,320.1 L249.8,321.1 L250.8,322.1 L251.4,323.1 L251.9,324.1 L252.0,325.1 L251.8,326.1 L251.2,327.1 L250.3,328.1 L249.1,329.1 L247.7,330.1 L245.9,331.1 L243.9,332.1 L241.6,333.1 L239.3,334.1 L236.8,335.1 L234.2,336.1 L231.6,337.1 L229.0,338.1 L226.5,339.1 L224.1,340.1 L221.8,341.1 L219.6,342.1 L217.6,343.1 L215.8,344.1 L214.2,345.1 L212.8,346.1 L211.5,347.1 L210.4,348.1 L209.5,349.1 L208.8,350.1 L208.2,351.1 L207.8,352.1 L207.6,353.1 L207.6,354.1 L207.7,355.1 L208.0,356.1 L208.5,357.1 L209.3,358.1 L210.2,359.1 L211.4,360.1 L212.8,361.1 L214.3,362.1 L216.0,363.1 L217.9,364.1 L219.8,365.1 L221.7,366.1 L223.6,367.1 L225.3,368.1 L226.7,369.1 L227.9,370.1 L228.7,371.1 L229.1,372.1 L229.2,373.1 L228.8,374.1 L228.1,375.1 L227.1,376.1 L225.8,377.1 L224.4,378.1 L222.9,379.1 L221.5,380.1 L220.2,381.1 L219.0,382.1 L218.1,383.1 L217.4,384.1 L217.0,385.1 L216.8,386.1 L216.9,387.1 L217.1,388.1 L217.5,389.1 L217.9,390.1 L218.3,391.1 L218.6,392.1 L218.9,393.1 L218.9,394.1 L218.8,395.1 L218.5,396.1 L218.1,397.1 L217.4,398.1 L216.7,399.1 L215.9,400.1 L215.1,401.1 L214.3,402.1 L213.5,403.1 L212.8,404.1 L212.1,405.1 L211.6,406.1 L211.1,407.1 L210.7,408.1 L210.4,409.1 L210.0,410.1 L209.7,411.1 L209.3,412.1 L208.9,413.1 L208.5,414.1 L208.1,415.1 L207.7,416.1 L207.2,417.1 L206.8,418.1 L206.5,419.1 L206.1,420.1 L205.9,421.1 L205.6,422.1 L205.5,423.1 L205.3,424.1 L205.2,425.1 L205.1,426.1 L205.1,427.1 L205.1,428.1 L205.0,429.1 L205.0,430.1 L205.0,431.1 L205.0,432.1 L205.0,433.1 L205.0,434.1 L205.0,435.1 L205.0,436.1 L205.0,437.1 L205.0,438.1 L205.0,439.1 L205.0,440.1 L205.0,441.1 L205.0,442.1 L205.0,443.1 L205.0,444.1 L205.0,445.1 L205.0,446.1 L205.0,447.1 L205.0,448.1 L205.0,449.1 L205.0,450.1 L205.0,451.1 L205.0,452.1 L205.0,453.1 L205.0,454.1 L205.0,455.1 L205.0,456.1 L205.0,457.1 L205.0,458.1 L205.0,459.1 L205.0,460.1 L205.0,461.1 L205.0,462.1 L205.0,463.1 L205.0,464.1 L205.0,465.1 L205.0,466.1 L205.0,467.1 L205.0,468.1 L205.0,469.1 L205.0,470.1 L205.0,471.1 L205.0,472.1 L205.0,473.1 L205.0,474.1 L205.0,475.1 L205.0,476.1 L205.0,477.1 L205.0,478.1 L205.0,479.1 L205.0,480.1 L205.0,481.1 L205.0,482.1 L205.0,483.1 L205.0,484.1 L205.0,485.1 L205.0,486.1 L205.0,487.1 L205.0,488.1 L205.0,489.1 L205.0,490.1 L205.0,491.1 L205.0,492.1 L205.0,493.1 L205.0,494.1 L205.0,495.1 L205.0,496.1 L205.0,497.1 L205.0,498.1 L205.0,499.1 L205.0,500.1 L205.0,501.1 L205.0,502.1 L205.0,503.1 L205.0,504.1 L205.0,505.1 L205.0,506.1 L205.0,507.1 L205.0,508.1 L205.0,509.1 L205.0,510.1 L205.0,511.1 L205.0,512.1 L205.0,513.1 L205.0,514.1 L205.0,515.1 L205.0,516.1 L205.0,517.1 L205.0,518.1 L205.0,519.1 L205.0,520.1 L205.0,521.1 L205.0,522.1 L205.0,523.1 L205.0,524.1 L205.0,525.1 L205.0,526.1 L205.0,527.1 L205.0,528.1 L205.0,529.1 L205.0,530.1 L205.0,531.1 L205.0,532.1 L205.0,533.1 L205.0,534.1 L205.0,535.1 L205.0,536.1 L205.0,537.1 L205.0,538.1 L205.0,539.1 L205.0,540.1 L205.0,541.1 L205.0,542.1 L205.0,543.1 L205.0,544.1 L205.0,545.1 L205.0,546.1 L205.0,547.1 L205.0,548.1 L205.0,549.1 L205.0,550.1 L205.0,551.1 L205.0,552.1 L205.0,553.1 L205.0,554.1 L205.0,555.1 L205.0,556.1 L205.0,557.1 L205.0,558.1 L205.0,559.1 L205.0,560.1 L205.0,561.1 L205.0,562.1 L205.0,563.1 L205.0,564.1 L205.0,565.1 L205.0,566.1 L205.0,567.1 L205.0,568.1 L205.0,569.1 L205.0,570.1 L205.0,571.1 L205.0,572.1 L205.0,573.1 L205.0,574.1 L205.0,575.1 L205.0,576.1 L205.0,577.1 L205.0,578.1 L205.0,579.1 L205.0,580.1 L205.0,581.1 L205.0,582.1"/>
<path stroke="#4876f4" d="M244.5,12.1 L244.5,13.1 L244.5,14.1 L244.5,15.1 L244.5,16.1 L244.5,17.1 L244.5,18.1 L244.5,19.1 L244.5,20.1 L244.5,21.1 L244.5,22.1 L244.5,23.1 L244.5,24.1 L244.5,25.1 L244.5,26.1 L244.5,27.1 L244.5,28.1 L244.5,29.1 L244.5,30.1 L244.5,31.1 L244.5,32.1 L244.5,33.1 L244.5,34.1 L244.5,35.1 L244.5,36.1 L244.5,37.1 L244.5,38.1 L244.5,39.1 L244.5,40.1 L244.5,41.1 L244.5,42.1 L244.5,43.1 L244.5,44.1 L244.5,45.1 L244.5,46.1 L244.5,47.1 L244.5,48.1 L244.5,49.1 L244.5,50.1 L244.5,51.1 L244.5,52.1 L244.5,53.1 L244.5,54.1 L244.5,55.1 L244.5,56.1 L244.5,57.1 L244.5,58.1 L244.5,59.1 L244.5,60.1 L244.5,61.1 L244.5,62.1 L244.5,63.1 L244.5,64.1 L244.5,65.1 L244.5,66.1 L244.5,67.1 L244.5,68.1 L244.5,69.1 L244.5,70.1 L244.5,71.1 L244.5,72.1 L244.5,73.1 L244.5,74.1 L244.5,75.1 L244.5,76.1 L244.5,77.1 L244.5,78.1 L244.5,79.1 L244.5,80.1 L244.5,81.1 L244.5,82.1 L244.5,83.1 L244.5,84.1 L244.5,85.1 L244.5,86.1 L244.5,87.1 L244.5,88.1 L244.5,89.1 L244.5,90.1 L244.5,91.1 L244.5,92.1 L244.5,93.1 L244.5,94.1 L244.5,95.1 L244.5,96.1 L244.5,97.1 L244.5,98.1 L244.5,99.1 L244.5,100.1 L244.5,101.1 L244.5,102.1 L244.5,103.1 L244.5,104.1 L244.5,105.1 L244.5,106.1 L244.5,107.1 L244.5,108.1 L244.5,109.1 L244.5,110.1 L244.5,111.1 L244.5,112.1 L244.5,113.1 L244.5,114.1 L244.5,115.1 L244.5,116.1 L244.5,117.1 L244.5,118.1 L244.5,119.1 L244.5,120.1 L244.5,121.1 L244.5,122.1 L244.5,123.1 L244.5,124.1 L244.5,125.1 L244.5,126.1 L244.5,127.1 L244.5,128.1 L244.5,129.1 L244.5,130.1 L244.5,131.1 L244.5,132.1 L244.5,133.1 L244.5,134.1 L244.5,135.1 L244.5,136.1 L244.5,137.1 L244.5,138.1 L244.5,139.1 L244.5,140.1 L244.5,141.1 L244.5,142.1 L244.5,143.1 L244.5,144.1 L244.5,145.1 L244.5,146.1 L244.5,147.1 L244.5,148.1 L244.5,149.1 L244.5,150.1 L244.5,151.1 L244.5,152.1 L244.5,153.1 L244.5,154.1 L244.5,155.1 L244.5,156.1 L244.5,157.1 L244.5,158.1 L244.5,159.1 L244.5,160.1 L244.5,161.1 L244.5,162.1 L244.5,163.1 L244.5,164.1 L244.5,165.1 L244.5,166.1 L244.5,167.1 L244.5,168.1 L244.5,169.1 L244.5,170.1 L244.5,171.1 L244.5,172.1 L244.5,173.1 L244.6,174.1 L244.6,175.1 L244.6,176.1 L244.7,177.1 L244.8,178.1 L244.9,179.1 L245.1,180.1 L245.3,181.1 L245.5,182.1 L245.9,183.1 L246.3,184.1 L246.7,185.1 L247.3,186.1 L247.8,187.1 L248.5,188.1 L249.1,189.1 L249.8,190.1 L250.4,191.1 L250.9,192.1 L251.4,193.1 L251.7,194.1 L251.9,195.1 L252.0,196.1 L251.9,197.1 L251.7,198.1 L251.3,199.1 L250.8,200.1 L250.3,201.1 L249.6,202.1 L249.0,203.1 L248.3,204.1 L247.7,205.1 L247.2,206.1 L246.7,207.1 L246.2,208.1 L245.8,209.1 L245.5,210.1 L245.3,211.1 L245.2,212.1 L245.1,213.1 L245.0,214.1 L245.1,215.1 L245.2,216.1 L245.3,217.1 L245.5,218.1 L245.8,219.1 L246.2,220.1 L246.6,221.1 L247.2,222.1 L247.8,223.1 L248.5,224.1 L249.2,225.1 L250.1,226.1 L251.0,227.1 L251.9,228.1 L252.8,229.1 L253.7,230.1 L254.5,231.1 L255.2,232.1 L255.8,233.1 L256.2,234.1 L256.5,235.1 L256.5,236.1 L256.4,237.1 L256.2,238.1 L255.7,239.1 L255.1,240.1 L254.4,241.1 L253.6,242.1 L252.8,243.1 L251.9,244.1 L251.1,245.1 L250.3,246.1 L249.5,247.1 L248.8,248.1 L248.2,249.1 L247.7,250.1 L247.2,251.1 L246.9,252.1 L246.6,253.1 L246.5,254.1 L246.4,255.1 L246.3,256.1 L246.3,257.1 L246.3,258.1 L246.3,259.1 L246.4,260.1 L246.5,261.1 L246.6,262.1 L246.7,263.1 L246.7,264.1 L246.8,265.1 L246.9,266.1 L246.9,267.1 L247.0,268.1 L247.0,269.1 L247.0,270.1 L247.0,271.1 L247.0,272.1 L246.9,273.1 L246.9,274.1 L246.8,275.1 L246.7,276.1 L246.6,277.1 L246.6,278.1 L246.5,279.1 L246.4,280.1 L246.4,281.1 L246.4,282.1 L246.4,283.1 L246.5,284.1 L246.7,285.1 L246.9,286.1 L247.2,287.1 L247.6,288.1 L248.0,289.1 L248.6,290.1 L249.1,291.1 L249.7,292.1 L250.3,293.1 L250.9,294.1 L251.4,295.1 L252.0,296.1 L252.5,297.1 L253.1,298.1 L253.7,299.1 L254.4,300.1 L255.3,301.1 L256.3,302.1 L257.5,303.1 L259.0,304.1 L260.6,305.1 L262.5,306.1 L264.5,307.1 L266.7,308.1 L268.9,309.1 L271.2,310.1 L273.5,311.1 L275.8,312.1 L278.0,313.1 L280.1,314.1 L282.0,315.1 L283.8,316.1 L285.4,317.1 L286.8,318.1 L288.0,319.1 L289.0,320.1 L289.8,321.1 L290.3,322.1 L290.6,323.1 L290.6,324.1 L290.4,325.1 L289.8,326.1 L289.0,327.1 L287.9,328.1 L286.5,329.1 L284.8,330.1 L283.0,331.1 L280.9,332.1 L278.7,333.1 L276.3,334.1 L273.9,335.1 L271.4,336.1 L269.0,337.1 L266.6,338.1 L264.2,339.1 L262.0,340.1 L259.8,341.1 L257.9,342.1 L256.1,343.1 L254.4,344.1 L253.0,345.1 L251.7,346.1 L250.6,347.1 L249.6,348.1 L248.9,349.1 L248.3,350.1 L248.0,351.1 L247.8,352.1 L247.8,353.1 L248.0,354.1 L248.4,355.1 L249.1,356.1 L250.0,357.1 L251.1,358.1 L252.4,359.1 L253.9,360.1 L255.6,361.1 L257.5,362.1 L259.4,363.1 L261.3,364.1 L263.1,365.1 L264.8,366.1 L266.2,367.1 L267.4,368.1 L268.2,369.1 L268.6,370.1 L268.6,371.1 L268.2,372.1 L267.4,373.1 L266.4,374.1 L265.1,375.1 L263.6,376.1 L262.1,377.1 L260.7,378.1 L259.3,379.1 L258.1,380.1 L257.2,381.1 L256.5,382.1 L256.1,383.1 L256.0,384.1 L256.1,385.1 L256.4,386.1 L256.8,387.1 L257.2,388.1 L257.6,389.1 L257.9,390.1 L258.0,391.1 L258.0,392.1 L257.7,393.1 L257.3,394.1 L256.7,395.1 L255.9,396.1 L255.1,397.1 L254.2,398.1 L253.3,399.1 L252.4,400.1 L251.6,401.1 L250.9,402.1 L250.3,403.1 L249.8,404.1 L249.4,405.1 L249.1,406.1 L248.7,407.1 L248.4,408.1 L248.1,409.1 L247.8,410.1 L247.4,411.1 L247.1,412.1 L246.7,413.1 L246.4,414.1 L246.0,415.1 L245.7,416.1 L245.5,417.1 L245.2,418.1 L245.0,419.1 L244.9,420.1 L244.8,421.1 L244.7,422.1 L244.6,423.1 L244.6,424.1 L244.6,425.1 L244.5,426.1 L244.5,427.1 L244.5,428.1 L244.5,429.1 L244.5,430.1 L244.5,431.1 L244.5,432.1 L244.5,433.1 L244.5,434.1 L244.5,435.1 L244.5,436.1 L244.5,437.1 L244.5,438.1 L244.5,439.1 L244.5,440.1 L244.5,441.1 L244.5,442.1 L244.5,443.1 L244.5,444.1 L244.5,445.1 L244.5,446.1 L244.5,447.1 L244.5,448.1 L244.5,449.1 L244.5,450.1 L244.5,451.1 L244.5,452.1 L244.5,453.1 L244.5,454.1 L244.5,455.1 L244.5,456.1 L244.5,457.1 L244.5,458.1 L244.5,459.1 L244.5,460.1 L244.5,461.1 L244.5,462.1 L244.5,463.1 L244.5,464.1 L244.5,465.1 L244.5,466.1 L244.5,467.1 L244.5,468.1 L244.5,469.1 L244.5,470.1 L244.5,471.1 L244.5,472.1 L244.5,473.1 L244.5,474.1 L244.5,475.1 L244.5,476.1 L244.5,477.1 L244.5,478.1 L244.5,479.1 L244.5,480.1 L244.5,481.1 L244.5,482.1 L244.5,483.1 L244.5,484.1 L244.5,485.1 L244.5,486.1 L244.5,487.1 L244.5,488.1 L244.5,489.1 L244.5,490.1 L244.5,491.1 L244.5,492.1 L244.5,493.1 L244.5,494.1 L244.5,495.1 L244.5,496.1 L244.5,497.1 L244.5,498.1 L244.5,499.1 L244.5,500.1 L244.5,501.1 L244.5,502.1 L244.5,503.1 L244.5,504.1 L244.5,505.1 L244.5,506.1 L244.5,507.1 L244.5,508.1 L244.5,509.1 L244.5,510.1 L244.5,511.1 L244.5,512.1 L244.5,513.1 L244.5,514.1 L244.5,515.1 L244.5,516.1 L244.5,517.1 L244.5,518.1 L244.5,519.1 L244.5,520.1 L244.5,521.1 L244.5,522.1 L244.5,523.1 L244.5,524.1 L244.5,525.1 L244.5,526.1 L244.5,527.1 L244.5,528.1 L244.5,529.1 L244.5,530.1 L244.5,531.1 L244.5,532.1 L244.5,533.1 L244.5,534.1 L244.5,535.1 L244.5,536.1 L244.5,537.1 L244.5,538.1 L244.5,539.1 L244.5,540.1 L244.5,541.1 L244.5,542.1 L244.5,543.1 L244.5,544.1 L244.5,545.1 L244.5,546.1 L244.5,547.1 L244.5,548.1 L244.5,549.1 L244.5,550.1 L244.5,551.1 L244.5,552.1 L244.5,553.1 L244.5,554.1 L244.5,555.1 L244.5,556.1 L244.5,557.1 L244.5,558.1 L244.5,559.1 L244.5,560.1 L244.5,561.1 L244.5,562.1 L244.5,563.1 L244.5,564.1 L244.5,565.1 L244.5,566.1 L244.5,567.1 L244.5,568.1 L244.5,569.1 L244.5,570.1 L244.5,571.1 L244.5,572.1 L244.5,573.1 L244.5,574.1 L244.5,575.1 L244.5,576.1 L244.5,577.1 L244.5,578.1 L244.5,579.1 L244.5,580.1 L244.5,581.1 L244.5,582.1"/>
<path stroke="#2a66ee" d="M284.0,12.1 L284.0,13.1 L284.0,14.1 L284.0,15.1 L284.0,16.1 L284.0,17.1 L284.0,18.1 L284.0,19.1 L284.0,20.1 L284.0,21.1 L284.0,22.1 L284.0,23.1 L284.0,24.1 L284.0,25.1 L284.0,26.1 L284.0,27.1 L284.0,28.1 L284.0,29.1 L284.0,30.1 L284.0,31.1 L284.0,32.1 L284.0,33.1 L284.0,34.1 L284.0,35.1 L284.0,36.1 L284.0,37.1 L284.0,38.1 L284.0,39.1 L284.0,40.1 L284.0,41.1 L284.0,42.1 L284.0,43.1 L284.0,44.1 L284.0,45.1 L284.0,46.1 L284.0,47.1 L284.0,48.1 L284.0,49.1 L284.0,50.1 L284.0,51.1 L284.0,52.1 L284.0,53.1 L284.0,54.1 L284.0,55.1 L284.0,56.1 L284.0,57.1 L284.0,58.1 L284.0,59.1 L284.0,60.1 L284.0,61.1 L284.0,62.1 L284.0,63.1 L284.0,64.1 L284.0,65.1 L284.0,66.1 L284.0,67.1 L284.0,68.1 L284.0,69.1 L284.0,70.1 L284.0,71.1 L284.0,72.1 L284.0,73.1 L284.0,74.1 L284.0,75.1 L284.0,76.1 L284.0,77.1 L284.0,78.1 L284.0,79.1 L284.0,80.1 L284.0,81.1 L284.0,82.1 L284.0,83.1 L284.0,84.1 L284.0,85.1 L284.0,86.1 L284.0,87.1 L284.0,88.1 L284.0,89.1 L284.0,90.1 L284.0,91.1 L284.0,92.1 L284.0,93.1 L284.0,94.1 L284.0,95.1 L284.0,96.1 L284.0,97.1 L284.0,98.1 L284.0,99.1 L284.0,100.1 L284.0,101.1 L284.0,102.1 L284.0,103.1 L284.0,104.1 L284.0,105.1 L284.0,106.1 L284.0,107.1 L284.0,108.1 L284.0,109.1 L284.0,110.1 L284.0,111.1 L284.0,112.1 L284.0,113.1 L284.0,114.1 L284.0,115.1 L284.0,116.1 L284.0,117.1 L284.0,118.1 L284.0,119.1 L284.0,120.1 L284.0,121.1 L284.0,122.1 L284.0,123.1 L284.0,124.1 L284.0,125.1 L284.0,126.1 L284.0,127.1 L284.0,128.1 L284.0,129.1 L284.0,130.1 L284.0,131.1 L284.0,132.1 L284.0,133.1 L284.0,134.1 L284.0,135.1 L284.0,136.1 L284.0,137.1 L284.0,138.1 L284.0,139.1 L284.0,140.1 L284.0,141.1 L284.0,142.1 L284.0,143.1 L284.0,144.1 L284.0,145.1 L284.0,146.1 L284.0,147.1 L284.0,148.1 L284.0,149.1 L284.0,150.1 L284.0,151.1 L284.0,152.1 L284.0,153.1 L284.0,154.1 L284.0,155.1 L284.0,156.1 L284.0,157.1 L284.0,158.1 L284.0,159.1 L284.0,160.1 L284.0,161.1 L284.0,162.1 L284.0,163.1 L284.0,164.1 L284.0,165.1 L284.0,166.1 L284.0,167.1 L284.0,168.1 L284.0,169.1 L284.0,170.1 L284.0,171.1 L284.0,172.1 L284.0,173.1 L284.0,174.1 L284.0,175.1 L284.0,176.1 L284.0,177.1 L284.0,178.1 L284.0,179.1 L284.0,180.1 L284.0,181.1 L284.0,182.1 L284.0,183.1 L284.0,184.1 L284.0,185.1 L284.0,186.1 L284.0,187.1 L284.0,188.1 L284.1,189.1 L284.1,190.1 L284.1,191.1 L284.1,192.1 L284.2,193.1 L284.2,194.1 L284.3,195.1 L284.4,196.1 L284.5,197.1 L284.7,198.1 L284.9,199.1 L285.1,200.1 L285.3,201.1 L285.6,202.1 L286.0,203.1 L286.4,204.1 L286.8,205.1 L287.2,206.1 L287.7,207.1 L288.3,208.1 L288.8,209.1 L289.4,210.1 L290.0,211.1 L290.5,212.1 L291.1,213.1 L291.7,214.1 L292.2,215.1 L292.8,216.1 L293.3,217.1 L293.8,218.1 L294.2,219.1 L294.7,220.1 L295.1,221.1 L295.4,222.1 L295.8,223.1 L296.1,224.1 L296.4,225.1 L296.6,226.1 L296.9,227.1 L297.1,228.1 L297.2,229.1 L297.3,230.1 L297.3,231.1 L297.3,232.1 L297.2,233.1 L297.0,234.1 L296.7,235.1 L296.4,236.1 L296.0,237.1 L295.5,238.1 L295.0,239.1 L294.4,240.1 L293.7,241.1 L293.0,242.1 L292.3,243.1 L291.6,244.1 L290.9,245.1 L290.2,246.1 L289.5,247.1 L288.9,248.1 L288.3,249.1 L287.7,250.1 L287.2,251.1 L286.7,252.1 L286.3,253.1 L285.9,254.1 L285.6,255.1 L285.3,256.1 L285.1,257.1 L284.9,258.1 L284.7,259.1 L284.5,260.1 L284.4,261.1 L284.3,262.1 L284.3,263.1 L284.2,264.1 L284.2,265.1 L284.2,266.1 L284.2,267.1 L284.2,268.1 L284.2,269.1 L284.3,270.1 L284.4,271.1 L284.5,272.1 L284.6,273.1 L284.8,274.1 L285.1,275.1 L285.4,276.1 L285.8,277.1 L286.2,278.1 L286.7,279.1 L287.3,280.1 L288.0,281.1 L288.7,282.1 L289.4,283.1 L290.1,284.1 L290.9,285.1 L291.6,286.1 L292.3,287.1 L292.9,288.1 L293.4,289.1 L293.8,290.1 L294.1,291.1 L294.2,292.1 L294.2,293.1 L294.1,294.1 L293.9,295.1 L293.7,296.1 L293.4,297.1 L293.1,298.1 L292.9,299.1 L292.8,300.1 L292.9,301.1 L293.1,302.1 L293.6,303.1 L294.3,304.1 L295.4,305.1 L296.6,306.1 L298.2,307.1 L300.0,308.1 L302.1,309.1 L304.4,310.1 L306.8,311.1 L309.3,312.1 L311.9,313.1 L314.6,314.1 L317.1,315.1 L319.6,316.1 L321.9,317.1 L324.1,318.1 L326.0,319.1 L327.6,320.1 L329.0,321.1 L330.2,322.1 L331.0,323.1 L331.4,324.1 L331.6,325.1 L331.4,326.1 L330.9,327.1 L330.1,328.1 L328.9,329.1 L327.4,330.1 L325.6,331.1 L323.5,332.1 L321.2,333.1 L318.6,334.1 L315.9,335.1 L313.2,336.1 L310.3,337.1 L307.5,338.1 L304.7,339.1 L302.1,340.1 L299.6,341.1 L297.2,342.1 L295.1,343.1 L293.2,344.1 L291.6,345.1 L290.1,346.1 L288.9,347.1 L287.9,348.1 L287.1,349.1 L286.4,350.1 L285.9,351.1 L285.6,352.1 L285.4,353.1 L285.3,354.1 L285.4,355.1 L285.6,356.1 L285.9,357.1 L286.3,358.1 L286.9,359.1 L287.6,360.1 L288.5,361.1 L289.5,362.1 L290.6,363.1 L291.9,364.1 L293.3,365.1 L294.8,366.1 L296.3,367.1 L297.8,368.1 L299.2,369.1 L300.6,370.1 L301.8,371.1 L302.7,372.1 L303.5,373.1 L303.9,374.1 L304.0,375.1 L303.9,376.1 L303.4,377.1 L302.7,378.1 L301.8,379.1 L300.6,380.1 L299.4,381.1 L298.1,382.1 L296.8,383.1 L295.6,384.1 L294.5,385.1 L293.5,386.1 L292.8,387.1 L292.2,388.1 L291.9,389.1 L291.8,390.1 L292.0,391.1 L292.3,392.1 L292.8,393.1 L293.4,394.1 L294.2,395.1 L294.9,396.1 L295.6,397.1 L296.3,398.1 L296.9,399.1 L297.3,400.1 L297.5,401.1 L297.6,402.1 L297.4,403.1 L297.1,404.1 L296.5,405.1 L295.8,406.1 L295.0,407.1 L294.1,408.1 L293.1,409.1 L292.1,410.1 L291.1,411.1 L290.1,412.1 L289.2,413.1 L288.3,414.1 L287.5,415.1 L286.9,416.1 L286.3,417.1 L285.8,418.1 L285.4,419.1 L285.0,420.1 L284.8,421.1 L284.6,422.1 L284.4,423.1 L284.3,424.1 L284.2,425.1 L284.1,426.1 L284.1,427.1 L284.1,428.1 L284.0,429.1 L284.0,430.1 L284.0,431.1 L284.0,432.1 L284.0,433.1 L284.0,434.1 L284.0,435.1 L284.0,436.1 L284.0,437.1 L284.0,438.1 L284.0,439.1 L284.0,440.1 L284.0,441.1 L284.0,442.1 L284.0,443.1 L284.0,444.1 L284.0,445.1 L284.0,446.1 L284.0,447.1 L284.0,448.1 L284.0,449.1 L284.0,450.1 L284.0,451.1 L284.0,452.1 L284.0,453.1 L284.0,454.1 L284.0,455.1 L284.0,456.1 L284.0,457.1 L284.0,458.1 L284.0,459.1 L284.0,460.1 L284.0,461.1 L284.0,462.1 L284.0,463.1 L284.0,464.1 L284.0,465.1 L284.0,466.1 L284.0,467.1 L284.0,468.1 L284.0,469.1 L284.0,470.1 L284.0,471.1 L284.0,472.1 L284.0,473.1 L284.0,474.1 L284.0,475.1 L284.0,476.1 L284.0,477.1 L284.0,478.1 L284.0,479.1 L284.0,480.1 L284.0,481.1 L284.0,482.1 L284.0,483.1 L284.0,484.1 L284.0,485.1 L284.0,486.1 L284.0,487.1 L284.0,488.1 L284.0,489.1 L284.0,490.1 L284.0,491.1 L284.0,492.1 L284.0,493.1 L284.0,494.1 L284.0,495.1 L284.0,496.1 L284.0,497.1 L284.0,498.1 L284.0,499.1 L284.0,500.1 L284.0,501.1 L284.0,502.1 L284.0,503.1 L284.0,504.1 L284.0,505.1 L284.0,506.1 L284.0,507.1 L284.0,508.1 L284.0,509.1 L284.0,510.1 L284.0,511.1 L284.0,512.1 L284.0,513.1 L284.0,514.1 L284.0,515.1 L284.0,516.1 L284.0,517.1 L284.0,518.1 L284.0,519.1 L284.0,520.1 L284.0,521.1 L284.0,522.1 L284.0,523.1 L284.0,524.1 L284.0,525.1 L284.0,526.1 L284.0,527.1 L284.0,528.1 L284.0,529.1 L284.0,530.1 L284.0,531.1 L284.0,532.1 L284.0,533.1 L284.0,534.1 L284.0,535.1 L284.0,536.1 L284.0,537.1 L284.0,538.1 L284.0,539.1 L284.0,540.1 L284.0,541.1 L284.0,542.1 L284.0,543.1 L284.0,544.1 L284.0,545.1 L284.0,546.1 L284.0,547.1 L284.0,548.1 L284.0,549.1 L284.0,550.1 L284.0,551.1 L284.0,552.1 L284.0,553.1 L284.0,554.1 L284.0,555.1 L284.0,556.1 L284.0,557.1 L284.0,558.1 L284.0,559.1 L284.0,560.1 L284.0,561.1 L284.0,562.1 L284.0,563.1 L284.0,564.1 L284.0,565.1 L284.0,566.1 L284.0,567.1 L284.0,568.1 L284.0,569.1 L284.0,570.1 L284.0,571.1 L284.0,572.1 L284.0,573.1 L284.0,574.1 L284.0,575.1 L284.0,576.1 L284.0,577.1 L284.0,578.1 L284.0,579.1 L284.0,580.1 L284.0,581.1 L284.0,582.1"/>
<path stroke="#1f5fe3" d="M322.9,12.1 L322.9,13.1 L322.9,14.1 L322.9,15.1 L322.9,16.1 L322.9,17.1 L322.9,18.1 L322.9,19.1 L322.9,20.1 L322.9,21.1 L322.9,22.1 L322.9,23.1 L322.9,24.1 L322.9,25.1 L322.9,26.1 L322.9,27.1 L322.9,28.1 L322.9,29.1 L322.9,30.1 L322.9,31.1 L322.9,32.1 L322.9,33.1 L322.9,34.1 L322.9,35.1 L322.9,36.1 L322.9,37.1 L322.9,38.1 L322.9,39.1 L322.9,40.1 L322.9,41.1 L322.9,42.1 L322.9,43.1 L322.9,44.1 L322.9,45.1 L322.9,46.1 L322.9,47.1 L322.9,48.1 L322.9,49.1 L322.9,50.1 L322.9,51.1 L322.9,52.1 L322.9,53.1 L322.9,54.1 L322.9,55.1 L322.9,56.1 L322.9,57.1 L322.9,58.1 L322.9,59.1 L322.9,60.1 L322.9,61.1 L322.9,62.1 L322.9,63.1 L322.9,64.1 L322.9,65.1 L322.9,66.1 L322.9,67.1 L322.9,68.1 L322.9,69.1 L322.9,70.1 L322.9,71.1 L322.9,72.1 L322.9,73.1 L322.9,74.1 L322.9,75.1 L322.9,76.1 L322.9,77.1 L322.9,78.1 L322.9,79.1 L322.9,80.1 L322.9,81.1 L322.9,82.1 L322.9,83.1 L322.9,84.1 L322.9,85.1 L322.9,86.1 L322.9,87.1 L322.9,88.1 L322.9,89.1 L322.9,90.1 L322.9,91.1 L322.9,92.1 L322.9,93.1 L322.9,94.1 L322.9,95.1 L322.9,96.1 L322.9,97.1 L322.9,98.1 L322.9,99.1 L322.9,100.1 L322.9,101.1 L322.9,102.1 L322.9,103.1 L322.9,104.1 L322.9,105.1 L322.9,106.1 L322.9,107.1 L322.9,108.1 L322.9,109.1 L322.9,110.1 L322.9,111.1 L322.9,112.1 L322.9,113.1 L322.9,114.1 L322.9,115.1 L322.9,116.1 L322.9,117.1 L322.9,118.1 L322.9,119.1 L322.9,120.1 L322.9,121.1 L322.9,122.1 L322.9,123.1 L322.9,124.1 L322.9,125.1 L322.9,126.1 L322.9,127.1 L322.9,128.1 L322.9,129.1 L322.9,130.1 L322.9,131.1 L322.9,132.1 L322.9,133.1 L322.9,134.1 L322.9,135.1 L322.9,136.1 L322.9,137.1 L322.9,138.1 L322.9,139.1 L322.9,140.1 L322.9,141.1 L322.9,142.1 L322.9,143.1 L322.9,144.1 L322.9,145.1 L322.9,146.1 L322.9,147.1 L322.9,148.1 L322.9,149.1 L322.9,150.1 L322.9,151.1 L322.9,152.1 L322.9,153.1 L322.9,154.1 L322.9,155.1 L322.9,156.1 L322.9,157.1 L322.9,158.1 L322.9,159.1 L322.9,160.1 L322.9,161.1 L322.9,162.1 L322.9,163.1 L322.9,164.1 L322.9,165.1 L322.9,166.1 L322.9,167.1 L322.9,168.1 L322.9,169.1 L322.9,170.1 L322.9,171.1 L322.9,172.1 L322.9,173.1 L322.9,174.1 L322.9,175.1 L322.9,176.1 L322.9,177.1 L322.9,178.1 L322.9,179.1 L322.9,180.1 L322.9,181.1 L322.9,182.1 L322.9,183.1 L322.9,184.1 L322.9,185.1 L322.9,186.1 L322.9,187.1 L322.9,188.1 L322.9,189.1 L322.9,190.1 L322.9,191.1 L322.9,192.1 L322.9,193.1 L322.9,194.1 L322.9,195.1 L322.9,196.1 L322.9,197.1 L322.9,198.1 L322.9,199.1 L322.9,200.1 L322.9,201.1 L322.9,202.1 L322.9,203.1 L322.9,204.1 L323.0,205.1 L323.0,206.1 L323.0,207.1 L323.1,208.1 L323.2,209.1 L323.2,210.1 L323.4,211.1 L323.5,212.1 L323.7,213.1 L324.0,214.1 L324.3,215.1 L324.7,216.1 L325.1,217.1 L325.6,218.1 L326.3,219.1 L327.0,220.1 L327.8,221.1 L328.6,222.1 L329.6,223.1 L330.6,224.1 L331.6,225.1 L332.7,226.1 L333.8,227.1 L334.8,228.1 L335.8,229.1 L336.7,230.1 L337.5,231.1 L338.1,232.1 L338.5,233.1 L338.8,234.1 L338.9,235.1 L338.8,236.1 L338.5,237.1 L338.0,238.1 L337.3,239.1 L336.6,240.1 L335.7,241.1 L334.7,242.1 L333.7,243.1 L332.6,244.1 L331.6,245.1 L330.7,246.1 L329.8,247.1 L329.0,248.1 L328.3,249.1 L327.8,250.1 L327.3,251.1 L327.0,252.1 L326.8,253.1 L326.7,254.1 L326.7,255.1 L326.7,256.1 L326.8,257.1 L326.9,258.1 L327.0,259.1 L327.1,260.1 L327.1,261.1 L327.1,262.1 L327.0,263.1 L326.8,264.1 L326.6,265.1 L326.3,266.1 L326.0,267.1 L325.7,268.1 L325.4,269.1 L325.1,270.1 L324.8,271.1 L324.6,272.1 L324.4,273.1 L324.3,274.1 L324.2,275.1 L324.2,276.1 L324.3,277.1 L324.5,278.1 L324.8,279.1 L325.1,280.1 L325.5,281.1 L326.0,282.1 L326.5,283.1 L327.0,284.1 L327.6,285.1 L328.2,286.1 L328.7,287.1 L329.3,288.1 L329.8,289.1 L330.2,290.1 L330.6,291.1 L330.9,292.1 L331.1,293.1 L331.2,294.1 L331.3,295.1 L331.4,296.1 L331.4,297.1 L331.4,298.1 L331.5,299.1 L331.7,300.1 L332.0,301.1 L332.4,302.1 L333.0,303.1 L333.8,304.1 L334.9,305.1 L336.2,306.1 L337.7,307.1 L339.5,308.1 L341.5,309.1 L343.7,310.1 L346.2,311.1 L348.8,312.1 L351.6,313.1 L354.4,314.1 L357.3,315.1 L360.2,316.1 L362.9,317.1 L365.6,318.1 L368.1,319.1 L370.4,320.1 L372.3,321.1 L373.9,322.1 L375.1,323.1 L376.0,324.1 L376.4,325.1 L376.3,326.1 L375.8,327.1 L374.9,328.1 L373.6,329.1 L371.9,330.1 L369.9,331.1 L367.6,332.1 L365.0,333.1 L362.3,334.1 L359.5,335.1 L356.5,336.1 L353.6,337.1 L350.7,338.1 L347.8,339.1 L345.1,340.1 L342.5,341.1 L340.0,342.1 L337.8,343.1 L335.7,344.1 L333.9,345.1 L332.2,346.1 L330.7,347.1 L329.5,348.1 L328.4,349.1 L327.5,350.1 L326.8,351.1 L326.2,352.1 L325.8,353.1 L325.5,354.1 L325.4,355.1 L325.5,356.1 L325.7,357.1 L326.0,358.1 L326.5,359.1 L327.1,360.1 L327.8,361.1 L328.7,362.1 L329.7,363.1 L330.8,364.1 L331.9,365.1 L333.1,366.1 L334.2,367.1 L335.3,368.1 L336.3,369.1 L337.2,370.1 L337.8,371.1 L338.3,372.1 L338.6,373.1 L338.7,374.1 L338.5,375.1 L338.1,376.1 L337.6,377.1 L336.9,378.1 L336.2,379.1 L335.3,380.1 L334.5,381.1 L333.6,382.1 L332.8,383.1 L332.1,384.1 L331.5,385.1 L331.1,386.1 L330.7,387.1 L330.4,388.1 L330.2,389.1 L330.1,390.1 L330.1,391.1 L330.2,392.1 L330.3,393.1 L330.4,394.1 L330.6,395.1 L330.8,396.1 L331.1,397.1 L331.4,398.1 L331.8,399.1 L332.2,400.1 L332.6,401.1 L333.0,402.1 L333.4,403.1 L333.9,404.1 L334.2,405.1 L334.6,406.1 L334.8,407.1 L335.0,408.1 L335.0,409.1 L334.9,410.1 L334.7,411.1 L334.3,412.1 L333.9,413.1 L333.3,414.1 L332.6,415.1 L331.9,416.1 L331.1,417.1 L330.2,418.1 L329.4,419.1 L328.6,420.1 L327.8,421.1 L327.1,422.1 L326.4,423.1 L325.8,424.1 L325.3,425.1 L324.8,426.1 L324.4,427.1 L324.1,428.1 L323.8,429.1 L323.6,430.1 L323.4,431.1 L323.3,432.1 L323.2,433.1 L323.1,434.1 L323.0,435.1 L323.0,436.1 L323.0,437.1 L322.9,438.1 L322.9,439.1 L322.9,440.1 L322.9,441.1 L322.9,442.1 L322.9,443.1 L322.9,444.1 L322.9,445.1 L322.9,446.1 L322.9,447.1 L322.9,448.1 L322.9,449.1 L322.9,450.1 L322.9,451.1 L322.9,452.1 L322.9,453.1 L322.9,454.1 L322.9,455.1 L322.9,456.1 L322.9,457.1 L322.9,458.1 L322.9,459.1 L322.9,460.1 L322.9,461.1 L322.9,462.1 L322.9,463.1 L322.9,464.1 L322.9,465.1 L322.9,466.1 L322.9,467.1 L322.9,468.1 L322.9,469.1 L322.9,470.1 L322.9,471.1 L322.9,472.1 L322.9,473.1 L322.9,474.1 L322.9,475.1 L322.9,476.1 L322.9,477.1 L322.9,478.1 L322.9,479.1 L322.9,480.1 L322.9,481.1 L322.9,482.1 L322.9,483.1 L322.9,484.1 L322.9,485.1 L322.9,486.1 L322.9,487.1 L322.9,488.1 L322.9,489.1 L322.9,490.1 L322.9,491.1 L322.9,492.1 L322.9,493.1 L322.9,494.1 L322.9,495.1 L322.9,496.1 L322.9,497.1 L322.9,498.1 L322.9,499.1 L322.9,500.1 L322.9,501.1 L322.9,502.1 L322.9,503.1 L322.9,504.1 L322.9,505.1 L322.9,506.1 L322.9,507.1 L322.9,508.1 L322.9,509.1 L322.9,510.1 L322.9,511.1 L322.9,512.1 L322.9,513.1 L322.9,514.1 L322.9,515.1 L322.9,516.1 L322.9,517.1 L322.9,518.1 L322.9,519.1 L322.9,520.1 L322.9,521.1 L322.9,522.1 L322.9,523.1 L322.9,524.1 L322.9,525.1 L322.9,526.1 L322.9,527.1 L322.9,528.1 L322.9,529.1 L322.9,530.1 L322.9,531.1 L322.9,532.1 L322.9,533.1 L322.9,534.1 L322.9,535.1 L322.9,536.1 L322.9,537.1 L322.9,538.1 L322.9,539.1 L322.9,540.1 L322.9,541.1 L322.9,542.1 L322.9,543.1 L322.9,544.1 L322.9,545.1 L322.9,546.1 L322.9,547.1 L322.9,548.1 L322.9,549.1 L322.9,550.1 L322.9,551.1 L322.9,552.1 L322.9,553.1 L322.9,554.1 L322.9,555.1 L322.9,556.1 L322.9,557.1 L322.9,558.1 L322.9,559.1 L322.9,560.1 L322.9,561.1 L322.9,562.1 L322.9,563.1 L322.9,564.1 L322.9,565.1 L322.9,566.1 L322.9,567.1 L322.9,568.1 L322.9,569.1 L322.9,570.1 L322.9,571.1 L322.9,572.1 L322.9,573.1 L322.9,574.1 L322.9,575.1 L322.9,576.1 L322.9,577.1 L322.9,578.1 L322.9,579.1 L322.9,580.1 L322.9,581.1 L322.9,582.1"/>
<path stroke="#1d57d8" d="M362.4,12.1 L362.4,13.1 L362.4,14.1 L362.4,15.1 L362.4,16.1 L362.4,17.1 L362.4,18.1 L362.4,19.1 L362.4,20.1 L362.4,21.1 L362.4,22.1 L362.4,23.1 L362.4,24.1 L362.4,25.1 L362.4,26.1 L362.4,27.1 L362.4,28.1 L362.4,29.1 L362.4,30.1 L362.4,31.1 L362.4,32.1 L362.4,33.1 L362.4,34.1 L362.4,35.1 L362.4,36.1 L362.4,37.1 L362.4,38.1 L362.4,39.1 L362.4,40.1 L362.4,41.1 L362.4,42.1 L362.4,43.1 L362.4,44.1 L362.4,45.1 L362.4,46.1 L362.4,47.1 L362.4,48.1 L362.4,49.1 L362.4,50.1 L362.4,51.1 L362.4,52.1 L362.4,53.1 L362.4,54.1 L362.4,55.1 L362.4,56.1 L362.4,57.1 L362.4,58.1 L362.4,59.1 L362.4,60.1 L362.4,61.1 L362.4,62.1 L362.4,63.1 L362.4,64.1 L362.4,65.1 L362.4,66.1 L362.4,67.1 L362.4,68.1 L362.4,69.1 L362.4,70.1 L362.4,71.1 L362.4,72.1 L362.4,73.1 L362.4,74.1 L362.4,75.1 L362.4,76.1 L362.4,77.1 L362.4,78.1 L362.4,79.1 L362.4,80.1 L362.4,81.1 L362.4,82.1 L362.4,83.1 L362.4,84.1 L362.4,85.1 L362.4,86.1 L362.4,87.1 L362.4,88.1 L362.4,89.1 L362.4,90.1 L362.4,91.1 L362.4,92.1 L362.4,93.1 L362.4,94.1 L362.4,95.1 L362.4,96.1 L362.4,97.1 L362.4,98.1 L362.4,99.1 L362.4,100.1 L362.4,101.1 L362.4,102.1 L362.4,103.1 L362.4,104.1 L362.4,105.1 L362.4,106.1 L362.4,107.1 L362.4,108.1 L362.4,109.1 L362.4,110.1 L362.4,111.1 L362.4,112.1 L362.4,113.1 L362.4,114.1 L362.4,115.1 L362.4,116.1 L362.4,117.1 L362.4,118.1 L362.4,119.1 L362.4,120.1 L362.4,121.1 L362.4,122.1 L362.4,123.1 L362.4,124.1 L362.4,125.1 L362.4,126.1 L362.4,127.1 L362.4,128.1 L362.4,129.1 L362.4,130.1 L362.4,131.1 L362.4,132.1 L362.4,133.1 L362.4,134.1 L362.4,135.1 L362.4,136.1 L362.4,137.1 L362.4,138.1 L362.4,139.1 L362.4,140.1 L362.4,141.1 L362.4,142.1 L362.4,143.1 L362.4,144.1 L362.4,145.1 L362.4,146.1 L362.4,147.1 L362.4,148.1 L362.4,149.1 L362.4,150.1 L362.4,151.1 L362.4,152.1 L362.4,153.1 L362.4,154.1 L362.4,155.1 L362.4,156.1 L362.4,157.1 L362.4,158.1 L362.4,159.1 L362.4,160.1 L362.4,161.1 L362.4,162.1 L362.4,163.1 L362.4,164.1 L362.4,165.1 L362.4,166.1 L362.4,167.1 L362.4,168.1 L362.4,169.1 L362.4,170.1 L362.4,171.1 L362.4,172.1 L362.4,173.1 L362.4,174.1 L362.4,175.1 L362.4,176.1 L362.4,177.1 L362.4,178.1 L362.4,179.1 L362.4,180.1 L362.4,181.1 L362.4,182.1 L362.4,183.1 L362.4,184.1 L362.4,185.1 L362.4,186.1 L362.4,187.1 L362.4,188.1 L362.4,189.1 L362.4,190.1 L362.4,191.1 L362.4,192.1 L362.4,193.1 L362.4,194.1 L362.4,195.1 L362.4,196.1 L362.4,197.1 L362.4,198.1 L362.4,199.1 L362.4,200.1 L362.4,201.1 L362.4,202.1 L362.4,203.1 L362.4,204.1 L362.4,205.1 L362.4,206.1 L362.4,207.1 L362.4,208.1 L362.5,209.1 L362.5,210.1 L362.5,211.1 L362.6,212.1 L362.7,213.1 L362.8,214.1 L362.9,215.1 L363.1,216.1 L363.3,217.1 L363.6,218.1 L364.0,219.1 L364.4,220.1 L364.9,221.1 L365.5,222.1 L366.2,223.1 L367.0,224.1 L367.8,225.1 L368.8,226.1 L369.8,227.1 L370.8,228.1 L371.8,229.1 L372.8,230.1 L373.8,231.1 L374.7,232.1 L375.5,233.1 L376.1,234.1 L376.5,235.1 L376.8,236.1 L376.9,237.1 L376.8,238.1 L376.5,239.1 L376.0,240.1 L375.3,241.1 L374.5,242.1 L373.6,243.1 L372.6,244.1 L371.6,245.1 L370.6,246.1 L369.6,247.1 L368.6,248.1 L367.7,249.1 L366.8,250.1 L366.1,251.1 L365.4,252.1 L364.9,253.1 L364.4,254.1 L364.1,255.1 L363.8,256.1 L363.6,257.1 L363.5,258.1 L363.5,259.1 L363.6,260.1 L363.8,261.1 L364.0,262.1 L364.3,263.1 L364.8,264.1 L365.3,265.1 L365.9,266.1 L366.6,267.1 L367.3,268.1 L368.1,269.1 L368.9,270.1 L369.7,271.1 L370.6,272.1 L371.3,273.1 L372.0,274.1 L372.6,275.1 L373.0,276.1 L373.3,277.1 L373.4,278.1 L373.4,279.1 L373.2,280.1 L372.8,281.1 L372.4,282.1 L371.8,283.1 L371.1,284.1 L370.4,285.1 L369.7,286.1 L369.1,287.1 L368.4,288.1 L367.9,289.1 L367.4,290.1 L367.1,291.1 L366.9,292.1 L366.7,293.1 L366.7,294.1 L366.7,295.1 L366.8,296.1 L366.9,297.1 L367.1,298.1 L367.2,299.1 L367.4,300.1 L367.6,301.1 L367.8,302.1 L368.1,303.1 L368.5,304.1 L368.9,305.1 L369.6,306.1 L370.4,307.1 L371.5,308.1 L372.9,309.1 L374.6,310.1 L376.6,311.1 L379.1,312.1 L381.8,313.1 L385.0,314.1 L388.5,315.1 L392.2,316.1 L396.2,317.1 L400.2,318.1 L404.4,319.1 L408.4,320.1 L412.3,321.1 L415.9,322.1 L419.1,323.1 L421.7,324.1 L423.8,325.1 L425.2,326.1 L425.8,327.1 L425.8,328.1 L424.9,329.1 L423.4,330.1 L421.2,331.1 L418.4,332.1 L415.2,333.1 L411.5,334.1 L407.5,335.1 L403.4,336.1 L399.2,337.1 L395.1,338.1 L391.1,339.1 L387.3,340.1 L383.7,341.1 L380.4,342.1 L377.5,343.1 L374.9,344.1 L372.6,345.1 L370.7,346.1 L369.1,347.1 L367.7,348.1 L366.7,349.1 L365.8,350.1 L365.2,351.1 L364.8,352.1 L364.6,353.1 L364.6,354.1 L364.7,355.1 L364.9,356.1 L365.3,357.1 L365.9,358.1 L366.5,359.1 L367.3,360.1 L368.2,361.1 L369.2,362.1 L370.2,363.1 L371.3,364.1 L372.4,365.1 L373.5,366.1 L374.4,367.1 L375.3,368.1 L376.0,369.1 L376.5,370.1 L376.8,371.1 L376.9,372.1 L376.8,373.1 L376.4,374.1 L375.9,375.1 L375.1,376.1 L374.2,377.1 L373.2,378.1 L372.2,379.1 L371.1,380.1 L370.0,381.1 L368.9,382.1 L368.0,383.1 L367.0,384.1 L366.2,385.1 L365.5,386.1 L364.9,387.1 L364.4,388.1 L364.1,389.1 L363.8,390.1 L363.6,391.1 L363.5,392.1 L363.4,393.1 L363.5,394.1 L363.6,395.1 L363.8,396.1 L364.0,397.1 L364.3,398.1 L364.6,399.1 L365.0,400.1 L365.4,401.1 L365.8,402.1 L366.2,403.1 L366.6,404.1 L367.0,405.1 L367.3,406.1 L367.6,407.1 L367.9,408.1 L368.1,409.1 L368.2,410.1 L368.2,411.1 L368.3,412.1 L368.2,413.1 L368.2,414.1 L368.1,415.1 L368.0,416.1 L367.9,417.1 L367.8,418.1 L367.7,419.1 L367.7,420.1 L367.7,421.1 L367.6,422.1 L367.6,423.1 L367.7,424.1 L367.7,425.1 L367.8,426.1 L367.8,427.1 L367.9,428.1 L368.0,429.1 L368.1,430.1 L368.2,431.1 L368.2,432.1 L368.3,433.1 L368.2,434.1 L368.2,435.1 L368.0,436.1 L367.8,437.1 L367.6,438.1 L367.3,439.1 L366.9,440.1 L366.5,441.1 L366.1,442.1 L365.7,443.1 L365.3,444.1 L364.9,445.1 L364.5,446.1 L364.2,447.1 L363.8,448.1 L363.6,449.1 L363.3,450.1 L363.1,451.1 L363.0,452.1 L362.8,453.1 L362.7,454.1 L362.6,455.1 L362.6,456.1 L362.5,457.1 L362.5,458.1 L362.5,459.1 L362.4,460.1 L362.4,461.1 L362.4,462.1 L362.4,463.1 L362.4,464.1 L362.4,465.1 L362.4,466.1 L362.4,467.1 L362.4,468.1 L362.4,469.1 L362.4,470.1 L362.4,471.1 L362.4,472.1 L362.4,473.1 L362.4,474.1 L362.4,475.1 L362.4,476.1 L362.4,477.1 L362.4,478.1 L362.4,479.1 L362.4,480.1 L362.4,481.1 L362.4,482.1 L362.4,483.1 L362.4,484.1 L362.4,485.1 L362.4,486.1 L362.4,487.1 L362.4,488.1 L362.4,489.1 L362.4,490.1 L362.4,491.1 L362.4,492.1 L362.4,493.1 L362.4,494.1 L362.4,495.1 L362.4,496.1 L362.4,497.1 L362.4,498.1 L362.4,499.1 L362.4,500.1 L362.4,501.1 L362.4,502.1 L362.4,503.1 L362.4,504.1 L362.4,505.1 L362.4,506.1 L362.4,507.1 L362.4,508.1 L362.4,509.1 L362.4,510.1 L362.4,511.1 L362.4,512.1 L362.4,513.1 L362.4,514.1 L362.4,515.1 L362.4,516.1 L362.4,517.1 L362.4,518.1 L362.4,519.1 L362.4,520.1 L362.4,521.1 L362.4,522.1 L362.4,523.1 L362.4,524.1 L362.4,525.1 L362.4,526.1 L362.4,527.1 L362.4,528.1 L362.4,529.1 L362.4,530.1 L362.4,531.1 L362.4,532.1 L362.4,533.1 L362.4,534.1 L362.4,535.1 L362.4,536.1 L362.4,537.1 L362.4,538.1 L362.4,539.1 L362.4,540.1 L362.4,541.1 L362.4,542.1 L362.4,543.1 L362.4,544.1 L362.4,545.1 L362.4,546.1 L362.4,547.1 L362.4,548.1 L362.4,549.1 L362.4,550.1 L362.4,551.1 L362.4,552.1 L362.4,553.1 L362.4,554.1 L362.4,555.1 L362.4,556.1 L362.4,557.1 L362.4,558.1 L362.4,559.1 L362.4,560.1 L362.4,561.1 L362.4,562.1 L362.4,563.1 L362.4,564.1 L362.4,565.1 L362.4,566.1 L362.4,567.1 L362.4,568.1 L362.4,569.1 L362.4,570.1 L362.4,571.1 L362.4,572.1 L362.4,573.1 L362.4,574.1 L362.4,575.1 L362.4,576.1 L362.4,577.1 L362.4,578.1 L362.4,579.1 L362.4,580.1 L362.4,581.1 L362.4,582.1"/>
<path stroke="#1a4fc8" d="M401.6,12.1 L401.6,13.1 L401.6,14.1 L401.6,15.1 L401.6,16.1 L401.6,17.1 L401.6,18.1 L401.6,19.1 L401.6,20.1 L401.6,21.1 L401.6,22.1 L401.6,23.1 L401.6,24.1 L401.6,25.1 L401.6,26.1 L401.6,27.1 L401.6,28.1 L401.6,29.1 L401.6,30.1 L401.6,31.1 L401.6,32.1 L401.6,33.1 L401.6,34.1 L401.6,35.1 L401.6,36.1 L401.6,37.1 L401.6,38.1 L401.6,39.1 L401.6,40.1 L401.6,41.1 L401.6,42.1 L401.6,43.1 L401.6,44.1 L401.6,45.1 L401.6,46.1 L401.6,47.1 L401.6,48.1 L401.6,49.1 L401.6,50.1 L401.6,51.1 L401.6,52.1 L401.6,53.1 L401.6,54.1 L401.6,55.1 L401.6,56.1 L401.6,57.1 L401.6,58.1 L401.6,59.1 L401.6,60.1 L401.6,61.1 L401.6,62.1 L401.6,63.1 L401.6,64.1 L401.6,65.1 L401.6,66.1 L401.6,67.1 L401.6,68.1 L401.6,69.1 L401.6,70.1 L401.6,71.1 L401.6,72.1 L401.6,73.1 L401.6,74.1 L401.6,75.1 L401.6,76.1 L401.6,77.1 L401.6,78.1 L401.6,79.1 L401.6,80.1 L401.6,81.1 L401.6,82.1 L401.6,83.1 L401.6,84.1 L401.6,85.1 L401.6,86.1 L401.6,87.1 L401.6,88.1 L401.6,89.1 L401.6,90.1 L401.6,91.1 L401.6,92.1 L401.6,93.1 L401.6,94.1 L401.6,95.1 L401.6,96.1 L401.6,97.1 L401.6,98.1 L401.6,99.1 L401.6,100.1 L401.6,101.1 L401.6,102.1 L401.6,103.1 L401.6,104.1 L401.6,105.1 L401.6,106.1 L401.6,107.1 L401.6,108.1 L401.6,109.1 L401.6,110.1 L401.6,111.1 L401.6,112.1 L401.6,113.1 L401.6,114.1 L401.6,115.1 L401.6,116.1 L401.6,117.1 L401.6,118.1 L401.6,119.1 L401.6,120.1 L401.6,121.1 L401.6,122.1 L401.6,123.1 L401.6,124.1 L401.6,125.1 L401.6,126.1 L401.6,127.1 L401.6,128.1 L401.6,129.1 L401.6,130.1 L401.6,131.1 L401.6,132.1 L401.6,133.1 L401.6,134.1 L401.6,135.1 L401.6,136.1 L401.6,137.1 L401.6,138.1 L401.6,139.1 L401.6,140.1 L401.6,141.1 L401.6,142.1 L401.6,143.1 L401.6,144.1 L401.6,145.1 L401.6,146.1 L401.6,147.1 L401.6,148.1 L401.6,149.1 L401.6,150.1 L401.6,151.1 L401.6,152.1 L401.6,153.1 L401.6,154.1 L401.6,155.1 L401.6,156.1 L401.6,157.1 L401.6,158.1 L401.6,159.1 L401.6,160.1 L401.6,161.1 L401.6,162.1 L401.6,163.1 L401.6,164.1 L401.6,165.1 L401.6,166.1 L401.6,167.1 L401.6,168.1 L401.6,169.1 L401.6,170.1 L401.6,171.1 L401.6,172.1 L401.6,173.1 L401.6,174.1 L401.6,175.1 L401.6,176.1 L401.6,177.1 L401.6,178.1 L401.6,179.1 L401.6,180.1 L401.6,181.1 L401.6,182.1 L401.6,183.1 L401.6,184.1 L401.6,185.1 L401.6,186.1 L401.6,187.1 L401.6,188.1 L401.6,189.1 L401.6,190.1 L401.6,191.1 L401.6,192.1 L401.6,193.1 L401.6,194.1 L401.6,195.1 L401.6,196.1 L401.6,197.1 L401.6,198.1 L401.6,199.1 L401.6,200.1 L401.6,201.1 L401.6,202.1 L401.6,203.1 L401.6,204.1 L401.6,205.1 L401.6,206.1 L401.6,207.1 L401.6,208.1 L401.6,209.1 L401.7,210.1 L401.7,211.1 L401.7,212.1 L401.8,213.1 L401.8,214.1 L401.9,215.1 L402.0,216.1 L402.2,217.1 L402.4,218.1 L402.7,219.1 L403.0,220.1 L403.3,221.1 L403.8,222.1 L404.3,223.1 L404.9,224.1 L405.6,225.1 L406.4,226.1 L407.3,227.1 L408.2,228.1 L409.1,229.1 L410.1,230.1 L411.0,231.1 L411.9,232.1 L412.8,233.1 L413.5,234.1 L414.2,235.1 L414.7,236.1 L415.0,237.1 L415.1,238.1 L415.0,239.1 L414.8,240.1 L414.4,241.1 L413.8,242.1 L413.1,243.1 L412.3,244.1 L411.4,245.1 L410.5,246.1 L409.5,247.1 L408.5,248.1 L407.6,249.1 L406.8,250.1 L405.9,251.1 L405.2,252.1 L404.6,253.1 L404.0,254.1 L403.5,255.1 L403.1,256.1 L402.8,257.1 L402.5,258.1 L402.3,259.1 L402.1,260.1 L402.0,261.1 L401.9,262.1 L401.9,263.1 L401.9,264.1 L401.9,265.1 L401.9,266.1 L402.0,267.1 L402.1,268.1 L402.3,269.1 L402.6,270.1 L402.9,271.1 L403.3,272.1 L403.7,273.1 L404.3,274.1 L405.0,275.1 L405.8,276.1 L406.7,277.1 L407.8,278.1 L408.9,279.1 L410.2,280.1 L411.5,281.1 L412.9,282.1 L414.3,283.1 L415.6,284.1 L416.9,285.1 L418.1,286.1 L419.2,287.1 L420.0,288.1 L420.6,289.1 L421.0,290.1 L421.1,291.1 L421.0,292.1 L420.6,293.1 L419.9,294.1 L419.0,295.1 L418.0,296.1 L416.9,297.1 L415.6,298.1 L414.4,299.1 L413.1,300.1 L411.9,301.1 L410.9,302.1 L410.0,303.1 L409.3,304.1 L408.8,305.1 L408.6,306.1 L408.7,307.1 L409.0,308.1 L409.8,309.1 L410.8,310.1 L412.2,311.1 L414.0,312.1 L416.1,313.1 L418.6,314.1 L421.4,315.1 L424.6,316.1 L428.0,317.1 L431.7,318.1 L435.5,319.1 L439.3,320.1 L443.2,321.1 L447.0,322.1 L450.6,323.1 L453.9,324.1 L456.9,325.1 L459.3,326.1 L461.2,327.1 L462.4,328.1 L463.0,329.1 L463.0,330.1 L462.2,331.1 L460.8,332.1 L458.8,333.1 L456.3,334.1 L453.3,335.1 L449.9,336.1 L446.3,337.1 L442.4,338.1 L438.5,339.1 L434.6,340.1 L430.8,341.1 L427.1,342.1 L423.7,343.1 L420.5,344.1 L417.6,345.1 L415.0,346.1 L412.7,347.1 L410.7,348.1 L409.1,349.1 L407.7,350.1 L406.5,351.1 L405.6,352.1 L404.9,353.1 L404.5,354.1 L404.2,355.1 L404.0,356.1 L404.1,357.1 L404.3,358.1 L404.6,359.1 L405.1,360.1 L405.7,361.1 L406.4,362.1 L407.2,363.1 L408.1,364.1 L409.0,365.1 L410.0,366.1 L411.0,367.1 L412.0,368.1 L413.0,369.1 L413.9,370.1 L414.7,371.1 L415.3,372.1 L415.7,373.1 L416.0,374.1 L416.1,375.1 L416.0,376.1 L415.7,377.1 L415.2,378.1 L414.5,379.1 L413.7,380.1 L412.8,381.1 L411.8,382.1 L410.8,383.1 L409.8,384.1 L408.8,385.1 L407.8,386.1 L406.9,387.1 L406.0,388.1 L405.3,389.1 L404.6,390.1 L404.0,391.1 L403.6,392.1 L403.2,393.1 L402.8,394.1 L402.6,395.1 L402.5,396.1 L402.4,397.1 L402.3,398.1 L402.4,399.1 L402.5,400.1 L402.6,401.1 L402.9,402.1 L403.1,403.1 L403.5,404.1 L403.9,405.1 L404.3,406.1 L404.7,407.1 L405.1,408.1 L405.5,409.1 L405.9,410.1 L406.2,411.1 L406.4,412.1 L406.6,413.1 L406.6,414.1 L406.5,415.1 L406.4,416.1 L406.1,417.1 L405.8,418.1 L405.4,419.1 L405.0,420.1 L404.6,421.1 L404.2,422.1 L403.7,423.1 L403.4,424.1 L403.0,425.1 L402.7,426.1 L402.5,427.1 L402.3,428.1 L402.1,429.1 L402.0,430.1 L401.9,431.1 L401.8,432.1 L401.7,433.1 L401.7,434.1 L401.7,435.1 L401.6,436.1 L401.6,437.1 L401.6,438.1 L401.6,439.1 L401.6,440.1 L401.6,441.1 L401.6,442.1 L401.6,443.1 L401.6,444.1 L401.6,445.1 L401.6,446.1 L401.6,447.1 L401.6,448.1 L401.6,449.1 L401.6,450.1 L401.6,451.1 L401.6,452.1 L401.6,453.1 L401.6,454.1 L401.6,455.1 L401.6,456.1 L401.6,457.1 L401.6,458.1 L401.6,459.1 L401.6,460.1 L401.6,461.1 L401.6,462.1 L401.6,463.1 L401.6,464.1 L401.6,465.1 L401.6,466.1 L401.6,467.1 L401.6,468.1 L401.6,469.1 L401.6,470.1 L401.6,471.1 L401.6,472.1 L401.6,473.1 L401.6,474.1 L401.6,475.1 L401.6,476.1 L401.6,477.1 L401.6,478.1 L401.6,479.1 L401.6,480.1 L401.6,481.1 L401.6,482.1 L401.6,483.1 L401.6,484.1 L401.6,485.1 L401.6,486.1 L401.6,487.1 L401.6,488.1 L401.6,489.1 L401.6,490.1 L401.6,491.1 L401.6,492.1 L401.6,493.1 L401.6,494.1 L401.6,495.1 L401.6,496.1 L401.6,497.1 L401.6,498.1 L401.6,499.1 L401.6,500.1 L401.6,501.1 L401.6,502.1 L401.6,503.1 L401.6,504.1 L401.6,505.1 L401.6,506.1 L401.6,507.1 L401.6,508.1 L401.6,509.1 L401.6,510.1 L401.6,511.1 L401.6,512.1 L401.6,513.1 L401.6,514.1 L401.6,515.1 L401.6,516.1 L401.6,517.1 L401.6,518.1 L401.6,519.1 L401.7,520.1 L401.7,521.1 L401.7,522.1 L401.7,523.1 L401.8,524.1 L401.8,525.1 L401.9,526.1 L401.9,527.1 L402.0,528.1 L402.1,529.1 L402.2,530.1 L402.2,531.1 L402.3,532.1 L402.4,533.1 L402.5,534.1 L402.6,535.1 L402.7,536.1 L402.7,537.1 L402.8,538.1 L402.8,539.1 L402.8,540.1 L402.8,541.1 L402.8,542.1 L402.7,543.1 L402.7,544.1 L402.6,545.1 L402.5,546.1 L402.4,547.1 L402.3,548.1 L402.2,549.1 L402.1,550.1 L402.1,551.1 L402.0,552.1 L401.9,553.1 L401.9,554.1 L401.8,555.1 L401.8,556.1 L401.7,557.1 L401.7,558.1 L401.7,559.1 L401.7,560.1 L401.6,561.1 L401.6,562.1 L401.6,563.1 L401.6,564.1 L401.6,565.1 L401.6,566.1 L401.6,567.1 L401.6,568.1 L401.6,569.1 L401.6,570.1 L401.6,571.1 L401.6,572.1 L401.6,573.1 L401.6,574.1 L401.6,575.1 L401.6,576.1 L401.6,577.1 L401.6,578.1 L401.6,579.1 L401.6,580.1 L401.6,581.1 L401.6,582.1"/>
<path stroke="#000000" stroke-width="2.7" d="M440.5,12.1 L440.5,13.1 L440.5,14.1 L440.5,15.1 L440.5,16.1 L440.5,17.1 L440.5,18.1 L440.5,19.1 L440.5,20.1 L440.5,21.1 L440.5,22.1 L440.5,23.1 L440.5,24.1 L440.5,25.1 L440.5,26.1 L440.5,27.1 L440.5,28.1 L440.5,29.1 L440.5,30.1 L440.5,31.1 L440.5,32.1 L440.5,33.1 L440.5,34.1 L440.5,35.1 L440.5,36.1 L440.5,37.1 L440.5,38.1 L440.5,39.1 L440.5,40.1 L440.5,41.1 L440.5,42.1 L440.5,43.1 L440.5,44.1 L440.5,45.1 L440.5,46.1 L440.5,47.1 L440.5,48.1 L440.5,49.1 L440.5,50.1 L440.5,51.1 L440.5,52.1 L440.5,53.1 L440.5,54.1 L440.5,55.1 L440.5,56.1 L440.5,57.1 L440.5,58.1 L440.5,59.1 L440.5,60.1 L440.5,61.1 L440.5,62.1 L440.5,63.1 L440.5,64.1 L440.5,65.1 L440.5,66.1 L440.5,67.1 L440.5,68.1 L440.5,69.1 L440.5,70.1 L440.5,71.1 L440.5,72.1 L440.5,73.1 L440.5,74.1 L440.5,75.1 L440.5,76.1 L440.5,77.1 L440.5,78.1 L440.5,79.1 L440.5,80.1 L440.5,81.1 L440.5,82.1 L440.5,83.1 L440.5,84.1 L440.5,85.1 L440.5,86.1 L440.5,87.1 L440.5,88.1 L440.5,89.1 L440.5,90.1 L440.5,91.1 L440.5,92.1 L440.5,93.1 L440.5,94.1 L440.5,95.1 L440.5,96.1 L440.5,97.1 L440.5,98.1 L440.5,99.1 L440.5,100.1 L440.5,101.1 L440.5,102.1 L440.5,103.1 L440.5,104.1 L440.5,105.1 L440.5,106.1 L440.5,107.1 L440.5,108.1 L440.5,109.1 L440.5,110.1 L440.5,111.1 L440.5,112.1 L440.5,113.1 L440.5,114.1 L440.5,115.1 L440.5,116.1 L440.5,117.1 L440.5,118.1 L440.5,119.1 L440.5,120.1 L440.5,121.1 L440.5,122.1 L440.5,123.1 L440.5,124.1 L440.5,125.1 L440.5,126.1 L440.5,127.1 L440.5,128.1 L440.5,129.1 L440.5,130.1 L440.5,131.1 L440.5,132.1 L440.5,133.1 L440.5,134.1 L440.5,135.1 L440.5,136.1 L440.5,137.1 L440.5,138.1 L440.5,139.1 L440.5,140.1 L440.5,141.1 L440.5,142.1 L440.5,143.1 L440.5,144.1 L440.5,145.1 L440.5,146.1 L440.5,147.1 L440.5,148.1 L440.5,149.1 L440.5,150.1 L440.5,151.1 L440.5,152.1 L440.5,153.1 L440.5,154.1 L440.5,155.1 L440.5,156.1 L440.6,157.1 L440.6,158.1 L440.6,159.1 L440.7,160.1 L440.9,161.1 L441.1,162.1 L441.4,163.1 L441.8,164.1 L442.4,165.1 L443.3,166.1 L444.4,167.1 L446.0,168.1 L448.1,169.1 L450.8,170.1 L454.2,171.1 L458.4,172.1 L463.5,173.1 L469.4,174.1 L476.3,175.1 L484.0,176.1 L492.5,177.1 L501.5,178.1 L510.9,179.1 L520.2,180.1 L529.2,181.1 L537.4,182.1 L544.5,183.1 L550.2,184.1 L554.2,185.1 L556.2,186.1 L556.2,187.1 L554.2,188.1 L550.2,189.1 L544.5,190.1 L537.4,191.1 L529.2,192.1 L520.2,193.1 L510.9,194.1 L501.5,195.1 L492.5,196.1 L484.0,197.1 L476.3,198.1 L469.4,199.1 L463.5,200.1 L458.4,201.1 L454.2,202.1 L450.8,203.1 L448.1,204.1 L446.0,205.1 L444.4,206.1 L443.3,207.1 L442.4,208.1 L441.8,209.1 L441.4,210.1 L441.1,211.1 L440.9,212.1 L440.7,213.1 L440.6,214.1 L440.6,215.1 L440.6,216.1 L440.5,217.1 L440.5,218.1 L440.5,219.1 L440.5,220.1 L440.5,221.1 L440.5,222.1 L440.5,223.1 L440.5,224.1 L440.5,225.1 L440.5,226.1 L440.5,227.1 L440.5,228.1 L440.6,229.1 L440.6,230.1 L440.6,231.1 L440.7,232.1 L440.9,233.1 L441.0,234.1 L441.3,235.1 L441.7,236.1 L442.3,237.1 L443.1,238.1 L444.1,239.1 L445.5,240.1 L447.3,241.1 L449.6,242.1 L452.4,243.1 L455.8,244.1 L459.8,245.1 L464.5,246.1 L469.8,247.1 L475.6,248.1 L481.8,249.1 L488.3,250.1 L494.8,251.1 L501.2,252.1 L507.1,253.1 L512.2,254.1 L516.4,255.1 L519.4,256.1 L521.2,257.1 L521.4,258.1 L520.3,259.1 L517.8,260.1 L514.1,261.1 L509.3,262.1 L503.8,263.1 L497.8,264.1 L491.5,265.1 L485.3,266.1 L479.4,267.1 L474.0,268.1 L469.3,269.1 L465.5,270.1 L462.7,271.1 L460.9,272.1 L460.1,273.1 L460.3,274.1 L461.5,275.1 L463.5,276.1 L466.4,277.1 L469.9,278.1 L474.2,279.1 L479.1,280.1 L484.8,281.1 L491.2,282.1 L498.6,283.1 L507.1,284.1 L516.9,285.1 L528.2,286.1 L541.1,287.1 L555.6,288.1 L571.7,289.1 L589.3,290.1 L608.0,291.1 L627.6,292.1 L647.4,293.1 L667.0,294.1 L685.6,295.1 L702.7,296.1 L717.7,297.1 L729.8,298.1 L738.7,299.1 L744.1,300.1 L745.6,301.1 L743.2,302.1 L737.0,303.1 L727.2,304.1 L714.1,305.1 L698.4,306.1 L680.4,307.1 L660.8,308.1 L640.2,309.1 L619.2,310.1 L598.4,311.1 L578.2,312.1 L559.0,313.1 L541.2,314.1 L525.0,315.1 L510.5,316.1 L497.7,317.1 L486.7,318.1 L477.3,319.1 L469.4,320.1 L463.0,321.1 L457.7,322.1 L453.5,323.1 L450.2,324.1 L447.7,325.1 L445.7,326.1 L444.3,327.1 L443.2,328.1 L442.4,329.1 L441.9,330.1 L441.5,331.1 L441.2,332.1 L441.0,333.1 L441.0,334.1 L440.9,335.1 L440.9,336.1 L441.0,337.1 L441.1,338.1 L441.2,339.1 L441.4,340.1 L441.6,341.1 L441.8,342.1 L442.1,343.1 L442.5,344.1 L442.9,345.1 L443.4,346.1 L443.9,347.1 L444.6,348.1 L445.4,349.1 L446.3,350.1 L447.3,351.1 L448.4,352.1 L449.6,353.1 L451.0,354.1 L452.6,355.1 L454.3,356.1 L456.1,357.1 L458.0,358.1 L460.1,359.1 L462.3,360.1 L464.6,361.1 L467.0,362.1 L469.5,363.1 L472.0,364.1 L474.5,365.1 L477.0,366.1 L479.5,367.1 L481.8,368.1 L484.1,369.1 L486.2,370.1 L488.2,371.1 L489.9,372.1 L491.4,373.1 L492.6,374.1 L493.6,375.1 L494.2,376.1 L494.6,377.1 L494.7,378.1 L494.5,379.1 L494.1,380.1 L493.4,381.1 L492.5,382.1 L491.4,383.1 L490.2,384.1 L488.9,385.1 L487.5,386.1 L486.0,387.1 L484.4,388.1 L482.7,389.1 L481.0,390.1 L479.1,391.1 L477.1,392.1 L474.9,393.1 L472.6,394.1 L470.2,395.1 L467.6,396.1 L465.0,397.1 L462.4,398.1 L459.9,399.1 L457.4,400.1 L455.1,401.1 L453.0,402.1 L451.2,403.1 L449.6,404.1 L448.3,405.1 L447.3,406.1 L446.6,407.1 L446.2,408.1 L446.2,409.1 L446.6,410.1 L447.3,411.1 L448.4,412.1 L449.9,413.1 L452.0,414.1 L454.4,415.1 L457.3,416.1 L460.7,417.1 L464.4,418.1 L468.3,419.1 L472.5,420.1 L476.7,421.1 L480.7,422.1 L484.6,423.1 L488.0,424.1 L490.9,425.1 L493.1,426.1 L494.7,427.1 L495.5,428.1 L495.7,429.1 L495.2,430.1 L494.3,431.1 L493.0,432.1 L491.6,433.1 L490.1,434.1 L488.8,435.1 L487.8,436.1 L487.2,437.1 L487.0,438.1 L487.2,439.1 L487.9,440.1 L488.9,441.1 L490.1,442.1 L491.5,443.1 L492.8,444.1 L494.0,445.1 L495.0,446.1 L495.5,447.1 L495.6,448.1 L495.2,449.1 L494.2,450.1 L492.7,451.1 L490.6,452.1 L488.0,453.1 L485.1,454.1 L481.8,455.1 L478.3,456.1 L474.7,457.1 L471.1,458.1 L467.5,459.1 L464.0,460.1 L460.8,461.1 L457.7,462.1 L455.0,463.1 L452.5,464.1 L450.4,465.1 L448.5,466.1 L446.9,467.1 L445.5,468.1 L444.4,469.1 L443.5,470.1 L442.8,471.1 L442.2,472.1 L441.8,473.1 L441.4,474.1 L441.2,475.1 L441.0,476.1 L440.8,477.1 L440.7,478.1 L440.7,479.1 L440.6,480.1 L440.6,481.1 L440.6,482.1 L440.5,483.1 L440.5,484.1 L440.5,485.1 L440.5,486.1 L440.5,487.1 L440.5,488.1 L440.5,489.1 L440.5,490.1 L440.5,491.1 L440.5,492.1 L440.5,493.1 L440.5,494.1 L440.5,495.1 L440.5,496.1 L440.5,497.1 L440.5,498.1 L440.5,499.1 L440.5,500.1 L440.5,501.1 L440.5,502.1 L440.5,503.1 L440.5,504.1 L440.5,505.1 L440.5,506.1 L440.5,507.1 L440.5,508.1 L440.5,509.1 L440.5,510.1 L440.5,511.1 L440.5,512.1 L440.5,513.1 L440.5,514.1 L440.5,515.1 L440.5,516.1 L440.5,517.1 L440.5,518.1 L440.5,519.1 L440.5,520.1 L440.5,521.1 L440.5,522.1 L440.5,523.1 L440.5,524.1 L440.5,525.1 L440.5,526.1 L440.5,527.1 L440.5,528.1 L440.5,529.1 L440.5,530.1 L440.5,531.1 L440.5,532.1 L440.5,533.1 L440.5,534.1 L440.5,535.1 L440.5,536.1 L440.5,537.1 L440.5,538.1 L440.5,539.1 L440.5,540.1 L440.5,541.1 L440.5,542.1 L440.5,543.1 L440.5,544.1 L440.5,545.1 L440.5,546.1 L440.5,547.1 L440.5,548.1 L440.5,549.1 L440.5,550.1 L440.5,551.1 L440.5,552.1 L440.5,553.1 L440.5,554.1 L440.5,555.1 L440.5,556.1 L440.5,557.1 L440.5,558.1 L440.5,559.1 L440.5,560.1 L440.5,561.1 L440.5,562.1 L440.5,563.1 L440.5,564.1 L440.5,565.1 L440.5,566.1 L440.5,567.1 L440.5,568.1 L440.5,569.1 L440.5,570.1 L440.5,571.1 L440.5,572.1 L440.5,573.1 L440.5,574.1 L440.5,575.1 L440.5,576.1 L440.5,577.1 L440.5,578.1 L440.5,579.1 L440.5,580.1 L440.5,581.1 L440.5,582.1"/>
</g>
<text class="c" x="105.2" y="43.5" font-size="27.4" text-anchor="middle">①</text>
<text class="c" x="144.8" y="43.5" font-size="27.4" text-anchor="middle">②</text>
<text class="c" x="184.5" y="43.5" font-size="27.4" text-anchor="middle">③</text>
<text class="c" x="224.1" y="43.5" font-size="27.4" text-anchor="middle">④</text>
<text class="c" x="263.8" y="43.5" font-size="27.4" text-anchor="middle">⑤</text>
<text class="c" x="303.4" y="43.5" font-size="27.4" text-anchor="middle">⑥</text>
<text class="c" x="343.0" y="43.5" font-size="27.4" text-anchor="middle">⑦</text>
<text class="c" x="382.7" y="43.5" font-size="27.4" text-anchor="middle">⑧</text>
<text class="c" x="422.3" y="43.5" font-size="27.4" text-anchor="middle">⑨</text>
<text class="c" x="462.0" y="43.5" font-size="27.4" text-anchor="middle">⑩</text>
<text class="t" x="645.6" y="545.0" font-size="21">Zr</text>
<rect x="656.3" y="550.5" width="2.5" height="18.5" fill="#b7c2fb"/>
<text class="c" x="693" y="561.9" font-size="27.4" text-anchor="middle">①</text>
<text class="t" x="645.6" y="489.1" font-size="21">Nb</text>
<rect x="656.3" y="494.6" width="2.5" height="18.5" fill="#a0b2fa"/>
<text class="c" x="693" y="506.2" font-size="27.4" text-anchor="middle">②</text>
<text class="t" x="645.6" y="433.3" font-size="21">Mo</text>
<rect x="656.3" y="438.8" width="2.5" height="18.5" fill="#86a0f9"/>
<text class="c" x="693" y="450.5" font-size="27.4" text-anchor="middle">③</text>
<text class="t" x="645.6" y="377.4" font-size="21">Tc</text>
<rect x="656.3" y="382.9" width="2.5" height="18.5" fill="#7090f7"/>
<text class="c" x="693" y="394.8" font-size="27.4" text-anchor="middle">④</text>
<text class="t" x="645.6" y="321.5" font-size="21">Ru</text>
<rect x="656.3" y="327.0" width="2.5" height="18.5" fill="#4876f4"/>
<text class="c" x="693" y="339.1" font-size="27.4" text-anchor="middle">⑤</text>
<text class="t" x="645.6" y="265.7" font-size="21">Rh</text>
<rect x="656.3" y="271.2" width="2.5" height="18.5" fill="#2a66ee"/>
<text class="c" x="693" y="283.4" font-size="27.4" text-anchor="middle">⑥</text>
<text class="t" x="645.6" y="209.8" font-size="21">Pd</text>
<rect x="656.3" y="215.3" width="2.5" height="18.5" fill="#1f5fe3"/>
<text class="c" x="693" y="227.7" font-size="27.4" text-anchor="middle">⑦</text>
<text class="t" x="645.6" y="153.9" font-size="21">Ag</text>
<rect x="656.3" y="159.4" width="2.5" height="18.5" fill="#1d57d8"/>
<text class="c" x="693" y="172.0" font-size="27.4" text-anchor="middle">⑧</text>
<text class="t" x="645.6" y="98.0" font-size="21">Cd</text>
<rect x="656.3" y="103.5" width="2.5" height="18.5" fill="#1a4fc8"/>
<text class="c" x="693" y="116.3" font-size="27.4" text-anchor="middle">⑨</text>
<text class="t" x="645.6" y="42.2" font-size="21">Ce</text>
<rect x="656.3" y="47.7" width="2.5" height="18.5" fill="#000000"/>
<text class="c" x="693" y="60.6" font-size="27.4" text-anchor="middle">⑩</text>
<text class="t" font-size="24.8" text-anchor="middle" transform="translate(65.9,14.6) rotate(-90)">15</text>
<text class="t" font-size="24.8" text-anchor="middle" transform="translate(65.9,205.5) rotate(-90)">10</text>
<text class="t" font-size="24.8" text-anchor="middle" transform="translate(65.9,396.8) rotate(-90)">5</text>
<text class="t" font-size="24.8" text-anchor="middle" transform="translate(65.9,587.9) rotate(-90)">0</text>
<text class="t" font-size="35.3" text-anchor="middle" transform="translate(28.4,298.3) rotate(-90)">Energy Levels (eV)</text>
<text class="t" font-size="35.6" text-anchor="middle" x="362.5" y="644.9">DOS (1/ eV per atom )</text>
</svg></body></html>
